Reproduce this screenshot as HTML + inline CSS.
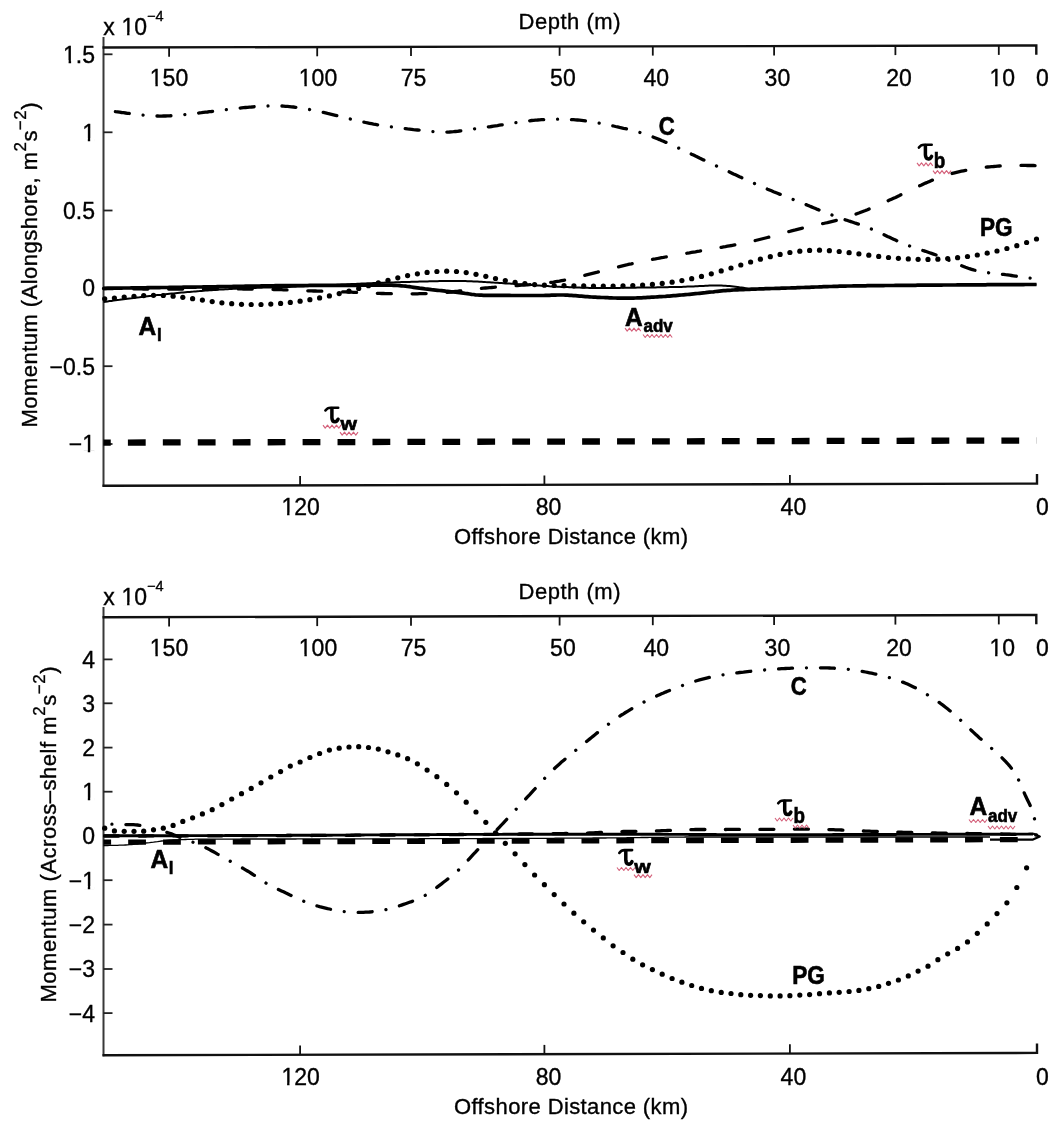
<!DOCTYPE html>
<html><head><meta charset="utf-8"><title>Momentum balance</title>
<style>html,body{margin:0;padding:0;background:#fff;}svg{display:block;will-change:transform;}text{font-family:"Liberation Sans",sans-serif;}</style>
</head><body>
<svg width="1063" height="1122" viewBox="0 0 1063 1122">
<rect width="1063" height="1122" fill="#fff"/>
<path d="M103.5 37 V486.8" stroke="#383838" stroke-width="2" fill="none"/><path d="M102.5 47.5 L1036.3 45.5 V54.8" stroke="#111" stroke-width="2.4" fill="none"/><path d="M102.5 485.8 L1037 483.6 V474.1" stroke="#111" stroke-width="2.4" fill="none"/><path d="M169.1 47.4 V56.7" stroke="#111" stroke-width="1.8"/><path d="M317.2 47 V56.3" stroke="#111" stroke-width="1.8"/><path d="M411 46.8 V56.1" stroke="#111" stroke-width="1.8"/><path d="M559.6 46.5 V55.8" stroke="#111" stroke-width="1.8"/><path d="M652.8 46.3 V55.6" stroke="#111" stroke-width="1.8"/><path d="M774.1 46.1 V55.4" stroke="#111" stroke-width="1.8"/><path d="M895.4 45.8 V55.1" stroke="#111" stroke-width="1.8"/><path d="M998.8 45.6 V54.9" stroke="#111" stroke-width="1.8"/><path d="M300.1 476 V485.3" stroke="#111" stroke-width="1.8"/><path d="M544.4 475.5 V484.8" stroke="#111" stroke-width="1.8"/><path d="M789.9 474.9 V484.2" stroke="#111" stroke-width="1.8"/><path d="M103.5 54.3 H112.5" stroke="#222" stroke-width="1.8"/><path d="M103.5 132.3 H112.5" stroke="#222" stroke-width="1.8"/><path d="M103.5 210.5 H112.5" stroke="#222" stroke-width="1.8"/><path d="M103.5 288 H112.5" stroke="#222" stroke-width="1.8"/><path d="M103.5 366.2 H112.5" stroke="#222" stroke-width="1.8"/><path d="M103.5 444 H112.5" stroke="#222" stroke-width="1.8"/><g  font-size="23" fill="#000" stroke="#000" stroke-width="0.35"><text x="169" y="86.3" text-anchor="middle">150</text><text x="318" y="86.3" text-anchor="middle">100</text><text x="413.5" y="86.3" text-anchor="middle">75</text><text x="562.9" y="86.3" text-anchor="middle">50</text><text x="656.3" y="86.3" text-anchor="middle">40</text><text x="777.4" y="86.3" text-anchor="middle">30</text><text x="899" y="86.3" text-anchor="middle">20</text><text x="1002.3" y="86.3" text-anchor="middle">10</text><text x="1042.4" y="86.3" text-anchor="middle">0</text><text x="300.7" y="515" text-anchor="middle">120</text><text x="548.5" y="515" text-anchor="middle">80</text><text x="793.4" y="515" text-anchor="middle">40</text><text x="1042.5" y="515" text-anchor="middle">0</text><text x="95" y="62.7" text-anchor="end">1.5</text><text x="95" y="140.7" text-anchor="end">1</text><text x="95" y="218.9" text-anchor="end">0.5</text><text x="95" y="296.4" text-anchor="end">0</text><text x="95" y="374.6" text-anchor="end">&#8722;0.5</text><text x="95" y="452.4" text-anchor="end">&#8722;1</text><text x="454" y="544.2" font-size="22" textLength="234" lengthAdjust="spacing">Offshore Distance (km)</text><text x="518.5" y="29" font-size="22" textLength="102" lengthAdjust="spacing">Depth (m)</text><text x="103.2" y="34.6">x</text><text x="121.5" y="34.6">10</text><text x="147" y="20.6" font-size="14.5">&#8722;4</text><text transform="translate(37.2 427.5) rotate(-90)" font-size="22" textLength="325" lengthAdjust="spacing">Momentum (Alongshore, m<tspan font-size="17" dy="-11">2</tspan><tspan dy="11">s</tspan><tspan font-size="17" dy="-11">&#8722;2</tspan><tspan dy="11">)</tspan></text></g>
<path d="M103.5 607 V1056.3" stroke="#383838" stroke-width="2" fill="none"/><path d="M102.5 617.3 L1036.3 615 V624.3" stroke="#111" stroke-width="2.4" fill="none"/><path d="M102.5 1055.3 L1037 1052.9 V1043.4" stroke="#111" stroke-width="2.4" fill="none"/><path d="M169.1 617.1 V626.4" stroke="#111" stroke-width="1.8"/><path d="M317.2 616.8 V626.1" stroke="#111" stroke-width="1.8"/><path d="M411 616.5 V625.8" stroke="#111" stroke-width="1.8"/><path d="M559.6 616.2 V625.5" stroke="#111" stroke-width="1.8"/><path d="M652.8 615.9 V625.2" stroke="#111" stroke-width="1.8"/><path d="M774.1 615.6 V624.9" stroke="#111" stroke-width="1.8"/><path d="M895.4 615.3 V624.6" stroke="#111" stroke-width="1.8"/><path d="M998.8 615.1 V624.4" stroke="#111" stroke-width="1.8"/><path d="M300.1 1045.5 V1054.8" stroke="#111" stroke-width="1.8"/><path d="M544.4 1044.9 V1054.2" stroke="#111" stroke-width="1.8"/><path d="M789.9 1044.2 V1053.5" stroke="#111" stroke-width="1.8"/><path d="M103.5 659.4 H112.5" stroke="#222" stroke-width="1.8"/><path d="M103.5 703.3 H112.5" stroke="#222" stroke-width="1.8"/><path d="M103.5 747.6 H112.5" stroke="#222" stroke-width="1.8"/><path d="M103.5 791.7 H112.5" stroke="#222" stroke-width="1.8"/><path d="M103.5 835.8 H112.5" stroke="#222" stroke-width="1.8"/><path d="M103.5 880.2 H112.5" stroke="#222" stroke-width="1.8"/><path d="M103.5 924.6 H112.5" stroke="#222" stroke-width="1.8"/><path d="M103.5 969 H112.5" stroke="#222" stroke-width="1.8"/><path d="M103.5 1013.1 H112.5" stroke="#222" stroke-width="1.8"/><g  font-size="23" fill="#000" stroke="#000" stroke-width="0.35"><text x="169" y="656.3" text-anchor="middle">150</text><text x="318" y="656.3" text-anchor="middle">100</text><text x="413.5" y="656.3" text-anchor="middle">75</text><text x="562.9" y="656.3" text-anchor="middle">50</text><text x="656.3" y="656.3" text-anchor="middle">40</text><text x="777.4" y="656.3" text-anchor="middle">30</text><text x="899" y="656.3" text-anchor="middle">20</text><text x="1002.3" y="656.3" text-anchor="middle">10</text><text x="1042.4" y="656.3" text-anchor="middle">0</text><text x="300.7" y="1085" text-anchor="middle">120</text><text x="548.5" y="1085" text-anchor="middle">80</text><text x="793.4" y="1085" text-anchor="middle">40</text><text x="1042.5" y="1085" text-anchor="middle">0</text><text x="95" y="667.8" text-anchor="end">4</text><text x="95" y="711.7" text-anchor="end">3</text><text x="95" y="756" text-anchor="end">2</text><text x="95" y="800.1" text-anchor="end">1</text><text x="95" y="844.2" text-anchor="end">0</text><text x="95" y="888.6" text-anchor="end">&#8722;1</text><text x="95" y="933" text-anchor="end">&#8722;2</text><text x="95" y="977.4" text-anchor="end">&#8722;3</text><text x="95" y="1021.5" text-anchor="end">&#8722;4</text><text x="454" y="1114.2" font-size="22" textLength="234" lengthAdjust="spacing">Offshore Distance (km)</text><text x="518.5" y="599" font-size="22" textLength="102" lengthAdjust="spacing">Depth (m)</text><text x="103.2" y="604.6">x</text><text x="121.5" y="604.6">10</text><text x="147" y="590.6" font-size="14.5">&#8722;4</text><text transform="translate(55.6 1002.5) rotate(-90)" font-size="22" textLength="336" lengthAdjust="spacing">Momentum (Across&#8211;shelf m<tspan font-size="17" dy="-11">2</tspan><tspan dy="11">s</tspan><tspan font-size="17" dy="-11">&#8722;2</tspan><tspan dy="11">)</tspan></text></g>
<g fill="#fff"><rect x="150.5" y="84" width="4.9" height="3.6"/><rect x="157.8" y="84" width="4.6" height="3.6"/><rect x="299.5" y="84" width="4.9" height="3.6"/><rect x="306.8" y="84" width="4.6" height="3.6"/><rect x="990.2" y="84" width="4.9" height="3.6"/><rect x="997.5" y="84" width="4.6" height="3.6"/><rect x="282.2" y="512.7" width="4.9" height="3.6"/><rect x="289.5" y="512.7" width="4.6" height="3.6"/><rect x="63.7" y="60.4" width="4.9" height="3.6"/><rect x="71.1" y="60.4" width="4.6" height="3.6"/><rect x="82.9" y="138.4" width="4.9" height="3.6"/><rect x="90.2" y="138.4" width="4.6" height="3.6"/><rect x="82.9" y="450.1" width="4.9" height="3.6"/><rect x="90.2" y="450.1" width="4.6" height="3.6"/><rect x="122.2" y="32.3" width="4.9" height="3.6"/><rect x="129.5" y="32.3" width="4.6" height="3.6"/><rect x="150.5" y="654" width="4.9" height="3.6"/><rect x="157.8" y="654" width="4.6" height="3.6"/><rect x="299.5" y="654" width="4.9" height="3.6"/><rect x="306.8" y="654" width="4.6" height="3.6"/><rect x="990.2" y="654" width="4.9" height="3.6"/><rect x="997.5" y="654" width="4.6" height="3.6"/><rect x="282.2" y="1082.7" width="4.9" height="3.6"/><rect x="289.5" y="1082.7" width="4.6" height="3.6"/><rect x="82.9" y="797.8" width="4.9" height="3.6"/><rect x="90.2" y="797.8" width="4.6" height="3.6"/><rect x="82.9" y="886.3" width="4.9" height="3.6"/><rect x="90.2" y="886.3" width="4.6" height="3.6"/><rect x="122.2" y="602.3" width="4.9" height="3.6"/><rect x="129.5" y="602.3" width="4.6" height="3.6"/></g>
<path d="M103.5 302 L105.5 301.7 L107.5 301.4 L109.5 301.1 L111.5 300.9 L113.5 300.6 L115.5 300.3 L117.5 300 L119.5 299.8 L121.5 299.5 L123.5 299.2 L125.5 299 L127.5 298.7 L129.5 298.4 L131.5 298.2 L133.5 297.9 L135.5 297.7 L137.5 297.4 L139.5 297.2 L141.5 296.9 L143.5 296.7 L145.5 296.5 L147.5 296.2 L149.5 296 L151.5 295.8 L153.5 295.5 L155.5 295.3 L157.5 295.1 L159.5 294.9 L161.5 294.7 L163.5 294.4 L165.5 294.2 L167.5 294 L169.5 293.8 L171.5 293.6 L173.5 293.4 L175.5 293.2 L177.5 293 L179.5 292.8 L181.5 292.6 L183.5 292.5 L185.5 292.3 L187.5 292.1 L189.5 291.9 L191.5 291.7 L193.5 291.6 L195.5 291.4 L197.5 291.2 L199.5 291.1 L201.5 290.9 L203.5 290.8 L205.5 290.6 L207.5 290.5 L209.5 290.3 L211.5 290.2 L213.5 290 L215.5 289.9 L217.5 289.8 L219.5 289.6 L221.5 289.5 L223.5 289.4 L225.5 289.3 L227.5 289.2 L229.5 289 L231.5 288.9 L233.5 288.8 L235.5 288.7 L237.5 288.6 L239.5 288.5 L241.5 288.4 L243.5 288.3 L245.5 288.3 L247.5 288.2 L249.5 288.1 L251.5 288 L253.5 288 L255.5 287.9 L257.5 287.8 L259.5 287.7 L261.5 287.7 L263.5 287.6 L265.5 287.6 L267.5 287.5 L269.5 287.4 L271.5 287.4 L273.5 287.3 L275.5 287.3 L277.5 287.2 L279.5 287.2 L281.5 287.1 L283.5 287 L285.5 287 L287.5 286.9 L289.5 286.9 L291.5 286.8 L293.5 286.7 L295.5 286.7 L297.5 286.6 L299.5 286.5 L301.5 286.4 L303.5 286.4 L305.5 286.3 L307.5 286.2 L309.5 286.1 L311.5 286 L313.5 285.9 L315.5 285.8 L317.5 285.8 L319.5 285.7 L321.5 285.6 L323.5 285.5 L325.5 285.4 L327.5 285.3 L329.5 285.2 L331.5 285.1 L333.5 285 L335.5 284.9 L337.5 284.8 L339.5 284.7 L341.5 284.6 L343.5 284.5 L345.5 284.4 L347.5 284.3 L349.5 284.2 L351.5 284.1 L353.5 284 L355.5 283.9 L357.5 283.8 L359.5 283.7 L361.5 283.6 L363.5 283.5 L365.5 283.4 L367.5 283.3 L369.5 283.3 L371.5 283.2 L373.5 283.1 L375.5 283 L377.5 282.9 L379.5 282.9 L381.5 282.8 L383.5 282.7 L385.5 282.6 L387.5 282.6 L389.5 282.5 L391.5 282.5 L393.5 282.4 L395.5 282.3 L397.5 282.3 L399.5 282.2 L401.5 282.1 L403.5 282.1 L405.5 282 L407.5 282 L409.5 281.9 L411.5 281.8 L413.5 281.8 L415.5 281.7 L417.5 281.7 L419.5 281.6 L421.5 281.5 L423.5 281.5 L425.5 281.4 L427.5 281.4 L429.5 281.3 L431.5 281.3 L433.5 281.3 L435.5 281.2 L437.5 281.2 L439.5 281.1 L441.5 281.1 L443.5 281.1 L445.5 281.1 L447.5 281 L449.5 281 L451.5 281 L453.5 281 L455.5 281 L457.5 281 L459.5 281 L461.5 281 L463.5 281.1 L465.5 281.1 L467.5 281.2 L469.5 281.3 L471.5 281.3 L473.5 281.4 L475.5 281.5 L477.5 281.6 L479.5 281.7 L481.5 281.8 L483.5 281.9 L485.5 282.1 L487.5 282.2 L489.5 282.3 L491.5 282.4 L493.5 282.6 L495.5 282.7 L497.5 282.8 L499.5 283 L501.5 283.1 L503.5 283.2 L505.5 283.4 L507.5 283.5 L509.5 283.6 L511.5 283.7 L513.5 283.8 L515.5 283.9 L517.5 284.1 L519.5 284.2 L521.5 284.3 L523.5 284.5 L525.5 284.6 L527.5 284.7 L529.5 284.9 L531.5 285 L533.5 285.2 L535.5 285.3 L537.5 285.5 L539.5 285.6 L541.5 285.7 L543.5 285.9 L545.5 286 L547.5 286.1 L549.5 286.3 L551.5 286.4 L553.5 286.5 L555.5 286.6 L557.5 286.7 L559.5 286.8 L561.5 286.9 L563.5 286.9 L565.5 287 L567.5 287.1 L569.5 287.2 L571.5 287.3 L573.5 287.4 L575.5 287.4 L577.5 287.5 L579.5 287.6 L581.5 287.7 L583.5 287.7 L585.5 287.8 L587.5 287.8 L589.5 287.9 L591.5 287.9 L593.5 288 L595.5 288 L597.5 288 L599.5 288 L601.5 288 L603.5 288 L605.5 288 L607.5 288 L609.5 288 L611.5 287.9 L613.5 287.9 L615.5 287.9 L617.5 287.9 L619.5 287.9 L621.5 287.8 L623.5 287.8 L625.5 287.8 L627.5 287.8 L629.5 287.7 L631.5 287.7 L633.5 287.7 L635.5 287.7 L637.5 287.6 L639.5 287.6 L641.5 287.6 L643.5 287.6 L645.5 287.5 L647.5 287.5 L649.5 287.5 L651.5 287.4 L653.5 287.4 L655.5 287.4 L657.5 287.3 L659.5 287.3 L661.5 287.3 L663.5 287.2 L665.5 287.2 L667.5 287.2 L669.5 287.1 L671.5 287.1 L673.5 287 L675.5 287 L677.5 287 L679.5 286.9 L681.5 286.9 L683.5 286.8 L685.5 286.7 L687.5 286.6 L689.5 286.6 L691.5 286.5 L693.5 286.4 L695.5 286.3 L697.5 286.2 L699.5 286.1 L701.5 286 L703.5 285.9 L705.5 285.8 L707.5 285.7 L709.5 285.6 L711.5 285.6 L713.5 285.5 L715.5 285.5 L717.5 285.5 L719.5 285.5 L721.5 285.6 L723.5 285.7 L725.5 285.8 L727.5 285.9 L729.5 286.1 L731.5 286.3 L733.5 286.5 L735.5 286.7 L737.5 286.9 L739.5 287.2 L741.5 287.4 L743.5 287.8 L745.5 288.2 L747.5 288.7 L749.5 289 L751.5 289.2 L753.5 289.2 L755.5 289.2 L757.5 289.1 L759.5 289.1 L761.5 289.1 L763.5 289 L765.5 288.9 L767.5 288.8 L769.5 288.8 L771.5 288.7 L773.5 288.6 L775.5 288.5 L777.5 288.4 L779.5 288.3 L781.5 288.3 L783.5 288.2 L785.5 288.1 L787.5 288 L789.5 288 L791.5 287.9 L793.5 287.8 L795.5 287.8 L797.5 287.7 L799.5 287.6 L801.5 287.5 L803.5 287.5 L805.5 287.4 L807.5 287.3 L809.5 287.3 L811.5 287.2 L813.5 287.1 L815.5 287 L817.5 287 L819.5 286.9 L821.5 286.8 L823.5 286.7 L825.5 286.7 L827.5 286.6 L829.5 286.5 L831.5 286.5 L833.5 286.4 L835.5 286.3 L837.5 286.3 L839.5 286.2 L841.5 286.2 L843.5 286.1 L845.5 286.1 L847.5 286 L849.5 286 L851.5 286 L853.5 285.9 L855.5 285.9 L857.5 285.9 L859.5 285.9 L861.5 285.8 L863.5 285.8 L865.5 285.8 L867.5 285.7 L869.5 285.7 L871.5 285.7 L873.5 285.7 L875.5 285.6 L877.5 285.6 L879.5 285.6 L881.5 285.6 L883.5 285.6 L885.5 285.5 L887.5 285.5 L889.5 285.5 L891.5 285.5 L893.5 285.5 L895.5 285.4 L897.5 285.4 L899.5 285.4 L901.5 285.4 L903.5 285.4 L905.5 285.3 L907.5 285.3 L909.5 285.3 L911.5 285.3 L913.5 285.3 L915.5 285.3 L917.5 285.2 L919.5 285.2 L921.5 285.2 L923.5 285.2 L925.5 285.2 L927.5 285.2 L929.5 285.1 L931.5 285.1 L933.5 285.1 L935.5 285.1 L937.5 285.1 L939.5 285.1 L941.5 285.1 L943.5 285 L945.5 285 L947.5 285 L949.5 285 L951.5 285 L953.5 285 L955.5 285 L957.5 284.9 L959.5 284.9 L961.5 284.9 L963.5 284.9 L965.5 284.9 L967.5 284.9 L969.5 284.9 L971.5 284.8 L973.5 284.8 L975.5 284.8 L977.5 284.8 L979.5 284.8 L981.5 284.8 L983.5 284.8 L985.5 284.8 L987.5 284.7 L989.5 284.7 L991.5 284.7 L993.5 284.7 L995.5 284.7 L997.5 284.7 L999.5 284.7 L1001.5 284.7 L1003.5 284.7 L1005.5 284.6 L1007.5 284.6 L1009.5 284.6 L1011.5 284.6 L1013.5 284.6 L1015.5 284.6 L1017.5 284.6 L1019.5 284.6 L1021.5 284.6 L1023.5 284.6 L1025.5 284.5 L1027.5 284.5 L1029.5 284.5 L1031.5 284.5 L1033.5 284.5 L1035.5 284.5 L1036.5 284.5" fill="none" stroke="#000" stroke-width="2"/><path d="M103.5 288.3 L105.5 288.3 L107.5 288.2 L109.5 288.2 L111.5 288.2 L113.5 288.2 L115.5 288.1 L117.5 288.1 L119.5 288.1 L121.5 288.1 L123.5 288 L125.5 288 L127.5 288 L129.5 288 L131.5 287.9 L133.5 287.9 L135.5 287.9 L137.5 287.9 L139.5 287.8 L141.5 287.8 L143.5 287.8 L145.5 287.8 L147.5 287.7 L149.5 287.7 L151.5 287.7 L153.5 287.6 L155.5 287.6 L157.5 287.6 L159.5 287.6 L161.5 287.5 L163.5 287.5 L165.5 287.5 L167.5 287.5 L169.5 287.4 L171.5 287.4 L173.5 287.4 L175.5 287.3 L177.5 287.3 L179.5 287.3 L181.5 287.3 L183.5 287.2 L185.5 287.2 L187.5 287.2 L189.5 287.1 L191.5 287.1 L193.5 287.1 L195.5 287.1 L197.5 287 L199.5 287 L201.5 287 L203.5 286.9 L205.5 286.9 L207.5 286.9 L209.5 286.9 L211.5 286.8 L213.5 286.8 L215.5 286.8 L217.5 286.7 L219.5 286.7 L221.5 286.7 L223.5 286.6 L225.5 286.6 L227.5 286.5 L229.5 286.5 L231.5 286.5 L233.5 286.4 L235.5 286.4 L237.5 286.4 L239.5 286.3 L241.5 286.3 L243.5 286.3 L245.5 286.2 L247.5 286.2 L249.5 286.1 L251.5 286.1 L253.5 286.1 L255.5 286 L257.5 286 L259.5 286 L261.5 285.9 L263.5 285.9 L265.5 285.9 L267.5 285.9 L269.5 285.8 L271.5 285.8 L273.5 285.8 L275.5 285.7 L277.5 285.7 L279.5 285.7 L281.5 285.7 L283.5 285.6 L285.5 285.6 L287.5 285.6 L289.5 285.6 L291.5 285.6 L293.5 285.5 L295.5 285.5 L297.5 285.5 L299.5 285.5 L301.5 285.5 L303.5 285.5 L305.5 285.5 L307.5 285.5 L309.5 285.4 L311.5 285.4 L313.5 285.4 L315.5 285.4 L317.5 285.4 L319.5 285.4 L321.5 285.4 L323.5 285.4 L325.5 285.4 L327.5 285.4 L329.5 285.4 L331.5 285.3 L333.5 285.3 L335.5 285.3 L337.5 285.3 L339.5 285.3 L341.5 285.3 L343.5 285.3 L345.5 285.3 L347.5 285.3 L349.5 285.3 L351.5 285.3 L353.5 285.3 L355.5 285.3 L357.5 285.2 L359.5 285.2 L361.5 285.2 L363.5 285.2 L365.5 285.2 L367.5 285.2 L369.5 285.2 L371.5 285.2 L373.5 285.2 L375.5 285.2 L377.5 285.2 L379.5 285.2 L381.5 285.2 L383.5 285.2 L385.5 285.2 L387.5 285.2 L389.5 285.2 L391.5 285.2 L393.5 285.3 L395.5 285.4 L397.5 285.5 L399.5 285.6 L401.5 285.8 L403.5 286 L405.5 286.2 L407.5 286.5 L409.5 286.7 L411.5 287 L413.5 287.3 L415.5 287.6 L417.5 287.9 L419.5 288.2 L421.5 288.4 L423.5 288.7 L425.5 289 L427.5 289.2 L429.5 289.4 L431.5 289.7 L433.5 289.9 L435.5 290.1 L437.5 290.3 L439.5 290.5 L441.5 290.7 L443.5 290.9 L445.5 291.2 L447.5 291.4 L449.5 291.6 L451.5 291.8 L453.5 292 L455.5 292.2 L457.5 292.4 L459.5 292.7 L461.5 292.9 L463.5 293.2 L465.5 293.5 L467.5 293.7 L469.5 294 L471.5 294.3 L473.5 294.5 L475.5 294.8 L477.5 295 L479.5 295.1 L481.5 295.2 L483.5 295.3 L485.5 295.3 L487.5 295.3 L489.5 295.3 L491.5 295.4 L493.5 295.4 L495.5 295.4 L497.5 295.4 L499.5 295.4 L501.5 295.4 L503.5 295.4 L505.5 295.4 L507.5 295.4 L509.5 295.4 L511.5 295.5 L513.5 295.5 L515.5 295.5 L517.5 295.5 L519.5 295.5 L521.5 295.5 L523.5 295.5 L525.5 295.5 L527.5 295.5 L529.5 295.5 L531.5 295.5 L533.5 295.5 L535.5 295.5 L537.5 295.5 L539.5 295.5 L541.5 295.5 L543.5 295.5 L545.5 295.4 L547.5 295.3 L549.5 295.3 L551.5 295.2 L553.5 295.1 L555.5 295.1 L557.5 295 L559.5 295 L561.5 295 L563.5 295 L565.5 295.1 L567.5 295.2 L569.5 295.3 L571.5 295.4 L573.5 295.6 L575.5 295.7 L577.5 295.9 L579.5 296.1 L581.5 296.2 L583.5 296.4 L585.5 296.6 L587.5 296.7 L589.5 296.8 L591.5 297 L593.5 297.1 L595.5 297.2 L597.5 297.3 L599.5 297.4 L601.5 297.5 L603.5 297.5 L605.5 297.6 L607.5 297.7 L609.5 297.8 L611.5 297.9 L613.5 298 L615.5 298 L617.5 298.1 L619.5 298.1 L621.5 298.2 L623.5 298.2 L625.5 298.2 L627.5 298.2 L629.5 298.2 L631.5 298.1 L633.5 298.1 L635.5 298 L637.5 297.9 L639.5 297.9 L641.5 297.8 L643.5 297.7 L645.5 297.6 L647.5 297.4 L649.5 297.3 L651.5 297.2 L653.5 297.1 L655.5 297 L657.5 296.8 L659.5 296.7 L661.5 296.6 L663.5 296.5 L665.5 296.4 L667.5 296.2 L669.5 296.1 L671.5 295.9 L673.5 295.7 L675.5 295.6 L677.5 295.4 L679.5 295.2 L681.5 295 L683.5 294.8 L685.5 294.6 L687.5 294.5 L689.5 294.3 L691.5 294.1 L693.5 293.9 L695.5 293.7 L697.5 293.5 L699.5 293.3 L701.5 293.1 L703.5 292.9 L705.5 292.7 L707.5 292.4 L709.5 292.2 L711.5 292 L713.5 291.8 L715.5 291.5 L717.5 291.3 L719.5 291.1 L721.5 290.9 L723.5 290.7 L725.5 290.6 L727.5 290.4 L729.5 290.3 L731.5 290.2 L733.5 290 L735.5 289.9 L737.5 289.8 L739.5 289.7 L741.5 289.6 L743.5 289.6 L745.5 289.5 L747.5 289.4 L749.5 289.3 L751.5 289.2 L753.5 289.1 L755.5 289.1 L757.5 289 L759.5 288.9 L761.5 288.9 L763.5 288.8 L765.5 288.7 L767.5 288.7 L769.5 288.6 L771.5 288.5 L773.5 288.5 L775.5 288.4 L777.5 288.4 L779.5 288.3 L781.5 288.2 L783.5 288.2 L785.5 288.1 L787.5 288 L789.5 288 L791.5 287.9 L793.5 287.8 L795.5 287.8 L797.5 287.7 L799.5 287.6 L801.5 287.5 L803.5 287.5 L805.5 287.4 L807.5 287.3 L809.5 287.3 L811.5 287.2 L813.5 287.1 L815.5 287 L817.5 287 L819.5 286.9 L821.5 286.8 L823.5 286.7 L825.5 286.7 L827.5 286.6 L829.5 286.5 L831.5 286.5 L833.5 286.4 L835.5 286.3 L837.5 286.3 L839.5 286.2 L841.5 286.2 L843.5 286.1 L845.5 286.1 L847.5 286 L849.5 286 L851.5 286 L853.5 285.9 L855.5 285.9 L857.5 285.9 L859.5 285.9 L861.5 285.8 L863.5 285.8 L865.5 285.8 L867.5 285.7 L869.5 285.7 L871.5 285.7 L873.5 285.7 L875.5 285.6 L877.5 285.6 L879.5 285.6 L881.5 285.6 L883.5 285.6 L885.5 285.5 L887.5 285.5 L889.5 285.5 L891.5 285.5 L893.5 285.5 L895.5 285.4 L897.5 285.4 L899.5 285.4 L901.5 285.4 L903.5 285.4 L905.5 285.3 L907.5 285.3 L909.5 285.3 L911.5 285.3 L913.5 285.3 L915.5 285.3 L917.5 285.2 L919.5 285.2 L921.5 285.2 L923.5 285.2 L925.5 285.2 L927.5 285.2 L929.5 285.1 L931.5 285.1 L933.5 285.1 L935.5 285.1 L937.5 285.1 L939.5 285.1 L941.5 285.1 L943.5 285 L945.5 285 L947.5 285 L949.5 285 L951.5 285 L953.5 285 L955.5 285 L957.5 284.9 L959.5 284.9 L961.5 284.9 L963.5 284.9 L965.5 284.9 L967.5 284.9 L969.5 284.9 L971.5 284.8 L973.5 284.8 L975.5 284.8 L977.5 284.8 L979.5 284.8 L981.5 284.8 L983.5 284.8 L985.5 284.8 L987.5 284.7 L989.5 284.7 L991.5 284.7 L993.5 284.7 L995.5 284.7 L997.5 284.7 L999.5 284.7 L1001.5 284.7 L1003.5 284.7 L1005.5 284.6 L1007.5 284.6 L1009.5 284.6 L1011.5 284.6 L1013.5 284.6 L1015.5 284.6 L1017.5 284.6 L1019.5 284.6 L1021.5 284.6 L1023.5 284.6 L1025.5 284.5 L1027.5 284.5 L1029.5 284.5 L1031.5 284.5 L1033.5 284.5 L1035.5 284.5 L1036.5 284.5" fill="none" stroke="#000" stroke-width="3.7"/><path d="M103.5 288.5 L105.5 288.5 L107.5 288.6 L109.5 288.6 L111.5 288.6 L113.5 288.6 L115.5 288.7 L117.5 288.7 L119.5 288.7 L121.5 288.7 L123.5 288.8 L125.5 288.8 L127.5 288.8 L129.5 288.8 L131.5 288.8 L133.5 288.9 L135.5 288.9 L137.5 288.9 L139.5 288.9 L141.5 288.9 L143.5 289 L145.5 289 L147.5 289 L149.5 289 L151.5 289 L153.5 289 L155.5 289 L157.5 289 L159.5 289 L161.5 289 L163.5 289.1 L165.5 289.1 L167.5 289.1 L169.5 289.1 L171.5 289.1 L173.5 289.1 L175.5 289.1 L177.5 289.1 L179.5 289.1 L181.5 289.1 L183.5 289.1 L185.5 289.1 L187.5 289 L189.5 289 L191.5 289 L193.5 289 L195.5 289 L197.5 289 L199.5 289 L201.5 289 L203.5 289 L205.5 289 L207.5 289 L209.5 289 L211.5 289 L213.5 289 L215.5 288.9 L217.5 288.9 L219.5 288.9 L221.5 288.9 L223.5 288.9 L225.5 288.9 L227.5 288.9 L229.5 288.9 L231.5 288.9 L233.5 288.9 L235.5 288.9 L237.5 288.9 L239.5 288.9 L241.5 288.9 L243.5 289 L245.5 289 L247.5 289 L249.5 289 L251.5 289 L253.5 289 L255.5 289.1 L257.5 289.1 L259.5 289.1 L261.5 289.2 L263.5 289.2 L265.5 289.3 L267.5 289.3 L269.5 289.3 L271.5 289.4 L273.5 289.5 L275.5 289.5 L277.5 289.6 L279.5 289.6 L281.5 289.7 L283.5 289.8 L285.5 289.9 L287.5 289.9 L289.5 290 L291.5 290.1 L293.5 290.2 L295.5 290.3 L297.5 290.4 L299.5 290.4 L301.5 290.5 L303.5 290.6 L305.5 290.7 L307.5 290.8 L309.5 290.8 L311.5 290.9 L313.5 291 L315.5 291 L317.5 291.1 L319.5 291.2 L321.5 291.2 L323.5 291.3 L325.5 291.3 L327.5 291.4 L329.5 291.5 L331.5 291.5 L333.5 291.6 L335.5 291.6 L337.5 291.7 L339.5 291.7 L341.5 291.8 L343.5 291.9 L345.5 291.9 L347.5 292 L349.5 292.1 L351.5 292.2 L353.5 292.3 L355.5 292.3 L357.5 292.4 L359.5 292.5 L361.5 292.6 L363.5 292.7 L365.5 292.8 L367.5 292.9 L369.5 293 L371.5 293.1 L373.5 293.1 L375.5 293.2 L377.5 293.3 L379.5 293.4 L381.5 293.5 L383.5 293.5 L385.5 293.6 L387.5 293.6 L389.5 293.7 L391.5 293.7 L393.5 293.8 L395.5 293.8 L397.5 293.8 L399.5 293.8 L401.5 293.8 L403.5 293.9 L405.5 293.9 L407.5 293.9 L409.5 293.9 L411.5 293.8 L413.5 293.8 L415.5 293.8 L417.5 293.8 L419.5 293.7 L421.5 293.7 L423.5 293.7 L425.5 293.6 L427.5 293.6 L429.5 293.5 L431.5 293.4 L433.5 293.3 L435.5 293.2 L437.5 293.1 L439.5 293 L441.5 292.8 L443.5 292.7 L445.5 292.5 L447.5 292.3 L449.5 292.1 L451.5 291.9 L453.5 291.7 L455.5 291.5 L457.5 291.3 L459.5 291 L461.5 290.8 L463.5 290.6 L465.5 290.3 L467.5 290.1 L469.5 289.8 L471.5 289.6 L473.5 289.4 L475.5 289.1 L477.5 288.9 L479.5 288.7 L481.5 288.4 L483.5 288.2 L485.5 288 L487.5 287.8 L489.5 287.6 L491.5 287.5 L493.5 287.3 L495.5 287.1 L497.5 286.9 L499.5 286.8 L501.5 286.6 L503.5 286.5 L505.5 286.3 L507.5 286.2 L509.5 286 L511.5 285.9 L513.5 285.8 L515.5 285.6 L517.5 285.5 L519.5 285.4 L521.5 285.2 L523.5 285.1 L525.5 284.9 L527.5 284.8 L529.5 284.7 L531.5 284.5 L533.5 284.3 L535.5 284.2 L537.5 284 L539.5 283.8 L541.5 283.6 L543.5 283.4 L545.5 283.1 L547.5 282.9 L549.5 282.6 L551.5 282.3 L553.5 282.1 L555.5 281.7 L557.5 281.4 L559.5 281.1 L561.5 280.7 L563.5 280.3 L565.5 279.9 L567.5 279.5 L569.5 279.1 L571.5 278.6 L573.5 278.2 L575.5 277.7 L577.5 277.2 L579.5 276.7 L581.5 276.2 L583.5 275.7 L585.5 275.2 L587.5 274.7 L589.5 274.2 L591.5 273.7 L593.5 273.2 L595.5 272.7 L597.5 272.2 L599.5 271.6 L601.5 271.1 L603.5 270.6 L605.5 270.1 L607.5 269.6 L609.5 269.1 L611.5 268.6 L613.5 268.1 L615.5 267.6 L617.5 267.1 L619.5 266.6 L621.5 266.1 L623.5 265.6 L625.5 265.1 L627.5 264.7 L629.5 264.2 L631.5 263.8 L633.5 263.3 L635.5 262.9 L637.5 262.5 L639.5 262.1 L641.5 261.6 L643.5 261.2 L645.5 260.8 L647.5 260.4 L649.5 260 L651.5 259.6 L653.5 259.2 L655.5 258.9 L657.5 258.5 L659.5 258.1 L661.5 257.7 L663.5 257.4 L665.5 257 L667.5 256.6 L669.5 256.3 L671.5 255.9 L673.5 255.5 L675.5 255.2 L677.5 254.8 L679.5 254.5 L681.5 254.2 L683.5 253.8 L685.5 253.5 L687.5 253.1 L689.5 252.8 L691.5 252.4 L693.5 252.1 L695.5 251.8 L697.5 251.4 L699.5 251.1 L701.5 250.7 L703.5 250.4 L705.5 250.1 L707.5 249.7 L709.5 249.4 L711.5 249 L713.5 248.7 L715.5 248.4 L717.5 248 L719.5 247.7 L721.5 247.3 L723.5 246.9 L725.5 246.6 L727.5 246.2 L729.5 245.8 L731.5 245.5 L733.5 245.1 L735.5 244.7 L737.5 244.3 L739.5 243.9 L741.5 243.5 L743.5 243.1 L745.5 242.7 L747.5 242.2 L749.5 241.8 L751.5 241.4 L753.5 240.9 L755.5 240.5 L757.5 240 L759.5 239.5 L761.5 239 L763.5 238.5 L765.5 238 L767.5 237.5 L769.5 237 L771.5 236.5 L773.5 235.9 L775.5 235.4 L777.5 234.8 L779.5 234.3 L781.5 233.7 L783.5 233.1 L785.5 232.6 L787.5 232 L789.5 231.5 L791.5 230.9 L793.5 230.4 L795.5 229.9 L797.5 229.3 L799.5 228.8 L801.5 228.3 L803.5 227.9 L805.5 227.4 L807.5 226.9 L809.5 226.5 L811.5 226.1 L813.5 225.6 L815.5 225.2 L817.5 224.8 L819.5 224.3 L821.5 223.9 L823.5 223.5 L825.5 223 L827.5 222.6 L829.5 222.1 L831.5 221.6 L833.5 221.1 L835.5 220.6 L837.5 220.1 L839.5 219.5 L841.5 218.9 L843.5 218.3 L845.5 217.7 L847.5 217 L849.5 216.4 L851.5 215.7 L853.5 215 L855.5 214.3 L857.5 213.5 L859.5 212.8 L861.5 212 L863.5 211.2 L865.5 210.5 L867.5 209.7 L869.5 208.8 L871.5 208 L873.5 207.2 L875.5 206.3 L877.5 205.5 L879.5 204.6 L881.5 203.7 L883.5 202.8 L885.5 201.9 L887.5 201 L889.5 200.1 L891.5 199.2 L893.5 198.3 L895.5 197.4 L897.5 196.4 L899.5 195.5 L901.5 194.5 L903.5 193.6 L905.5 192.6 L907.5 191.6 L909.5 190.7 L911.5 189.7 L913.5 188.8 L915.5 187.8 L917.5 186.8 L919.5 185.9 L921.5 185 L923.5 184 L925.5 183.1 L927.5 182.3 L929.5 181.4 L931.5 180.5 L933.5 179.7 L935.5 178.9 L937.5 178.2 L939.5 177.4 L941.5 176.7 L943.5 176 L945.5 175.4 L947.5 174.8 L949.5 174.2 L951.5 173.6 L953.5 173.1 L955.5 172.6 L957.5 172.1 L959.5 171.6 L961.5 171.2 L963.5 170.8 L965.5 170.4 L967.5 170 L969.5 169.6 L971.5 169.3 L973.5 169 L975.5 168.6 L977.5 168.3 L979.5 168 L981.5 167.8 L983.5 167.5 L985.5 167.3 L987.5 167 L989.5 166.8 L991.5 166.6 L993.5 166.5 L995.5 166.3 L997.5 166.1 L999.5 166 L1001.5 165.9 L1003.5 165.8 L1005.5 165.7 L1007.5 165.6 L1009.5 165.5 L1011.5 165.5 L1013.5 165.4 L1015.5 165.4 L1017.5 165.4 L1019.5 165.4 L1021.5 165.4 L1023.5 165.4 L1025.5 165.4 L1027.5 165.5 L1029.5 165.5 L1031.5 165.5 L1033.5 165.5 L1035.5 165.6 L1036.5 165.6" fill="none" stroke="#000" stroke-width="3.3" stroke-linecap="round" stroke-dasharray="14 20.8" stroke-dashoffset="4.43"/><path d="M103.5 110.3 L105.5 110.5 L107.5 110.7 L109.5 111 L111.5 111.2 L113.5 111.4 L115.5 111.7 L117.5 111.9 L119.5 112.2 L121.5 112.5 L123.5 112.7 L125.5 113 L127.5 113.3 L129.5 113.5 L131.5 113.8 L133.5 114.1 L135.5 114.3 L137.5 114.5 L139.5 114.8 L141.5 115 L143.5 115.2 L145.5 115.4 L147.5 115.5 L149.5 115.7 L151.5 115.8 L153.5 115.9 L155.5 116 L157.5 116 L159.5 116.1 L161.5 116.1 L163.5 116 L165.5 116 L167.5 115.9 L169.5 115.8 L171.5 115.7 L173.5 115.6 L175.5 115.5 L177.5 115.3 L179.5 115.1 L181.5 115 L183.5 114.8 L185.5 114.6 L187.5 114.3 L189.5 114.1 L191.5 113.9 L193.5 113.7 L195.5 113.4 L197.5 113.2 L199.5 112.9 L201.5 112.7 L203.5 112.4 L205.5 112.2 L207.5 112 L209.5 111.7 L211.5 111.5 L213.5 111.2 L215.5 111 L217.5 110.7 L219.5 110.5 L221.5 110.2 L223.5 110 L225.5 109.8 L227.5 109.5 L229.5 109.3 L231.5 109.1 L233.5 108.8 L235.5 108.6 L237.5 108.4 L239.5 108.2 L241.5 107.9 L243.5 107.7 L245.5 107.5 L247.5 107.3 L249.5 107.1 L251.5 107 L253.5 106.8 L255.5 106.6 L257.5 106.5 L259.5 106.3 L261.5 106.2 L263.5 106.1 L265.5 106 L267.5 106 L269.5 105.9 L271.5 105.9 L273.5 105.8 L275.5 105.9 L277.5 105.9 L279.5 105.9 L281.5 106 L283.5 106.1 L285.5 106.3 L287.5 106.4 L289.5 106.6 L291.5 106.8 L293.5 107 L295.5 107.3 L297.5 107.5 L299.5 107.8 L301.5 108.1 L303.5 108.4 L305.5 108.8 L307.5 109.1 L309.5 109.5 L311.5 109.9 L313.5 110.3 L315.5 110.7 L317.5 111.1 L319.5 111.5 L321.5 112 L323.5 112.4 L325.5 112.9 L327.5 113.4 L329.5 113.8 L331.5 114.3 L333.5 114.8 L335.5 115.3 L337.5 115.8 L339.5 116.3 L341.5 116.8 L343.5 117.3 L345.5 117.8 L347.5 118.3 L349.5 118.8 L351.5 119.3 L353.5 119.8 L355.5 120.2 L357.5 120.7 L359.5 121.2 L361.5 121.6 L363.5 122.1 L365.5 122.5 L367.5 122.9 L369.5 123.3 L371.5 123.7 L373.5 124.1 L375.5 124.4 L377.5 124.8 L379.5 125.1 L381.5 125.4 L383.5 125.7 L385.5 126 L387.5 126.3 L389.5 126.6 L391.5 126.9 L393.5 127.2 L395.5 127.4 L397.5 127.7 L399.5 127.9 L401.5 128.2 L403.5 128.4 L405.5 128.6 L407.5 128.9 L409.5 129.1 L411.5 129.3 L413.5 129.6 L415.5 129.8 L417.5 130 L419.5 130.2 L421.5 130.5 L423.5 130.7 L425.5 130.9 L427.5 131.1 L429.5 131.3 L431.5 131.5 L433.5 131.7 L435.5 131.8 L437.5 131.9 L439.5 132 L441.5 132.1 L443.5 132.1 L445.5 132.1 L447.5 132.1 L449.5 132 L451.5 131.8 L453.5 131.7 L455.5 131.5 L457.5 131.3 L459.5 131 L461.5 130.8 L463.5 130.5 L465.5 130.2 L467.5 129.9 L469.5 129.6 L471.5 129.3 L473.5 129 L475.5 128.7 L477.5 128.5 L479.5 128.2 L481.5 127.9 L483.5 127.6 L485.5 127.3 L487.5 127 L489.5 126.8 L491.5 126.5 L493.5 126.2 L495.5 125.9 L497.5 125.6 L499.5 125.2 L501.5 124.9 L503.5 124.6 L505.5 124.3 L507.5 124 L509.5 123.6 L511.5 123.3 L513.5 123 L515.5 122.7 L517.5 122.4 L519.5 122.1 L521.5 121.8 L523.5 121.5 L525.5 121.3 L527.5 121 L529.5 120.8 L531.5 120.5 L533.5 120.3 L535.5 120.1 L537.5 120 L539.5 119.8 L541.5 119.7 L543.5 119.6 L545.5 119.5 L547.5 119.4 L549.5 119.3 L551.5 119.3 L553.5 119.2 L555.5 119.2 L557.5 119.2 L559.5 119.2 L561.5 119.2 L563.5 119.3 L565.5 119.3 L567.5 119.4 L569.5 119.5 L571.5 119.6 L573.5 119.7 L575.5 119.8 L577.5 120 L579.5 120.2 L581.5 120.4 L583.5 120.6 L585.5 120.9 L587.5 121.2 L589.5 121.5 L591.5 121.8 L593.5 122.1 L595.5 122.4 L597.5 122.8 L599.5 123.2 L601.5 123.5 L603.5 123.9 L605.5 124.3 L607.5 124.8 L609.5 125.2 L611.5 125.6 L613.5 126 L615.5 126.5 L617.5 126.9 L619.5 127.4 L621.5 127.8 L623.5 128.3 L625.5 128.7 L627.5 129.2 L629.5 129.7 L631.5 130.1 L633.5 130.7 L635.5 131.2 L637.5 131.8 L639.5 132.3 L641.5 133 L643.5 133.6 L645.5 134.3 L647.5 135 L649.5 135.7 L651.5 136.4 L653.5 137.2 L655.5 138 L657.5 138.8 L659.5 139.6 L661.5 140.5 L663.5 141.3 L665.5 142.2 L667.5 143 L669.5 143.9 L671.5 144.8 L673.5 145.7 L675.5 146.6 L677.5 147.6 L679.5 148.5 L681.5 149.4 L683.5 150.4 L685.5 151.3 L687.5 152.3 L689.5 153.2 L691.5 154.2 L693.5 155.1 L695.5 156.1 L697.5 157 L699.5 158 L701.5 158.9 L703.5 159.9 L705.5 160.8 L707.5 161.8 L709.5 162.7 L711.5 163.6 L713.5 164.6 L715.5 165.5 L717.5 166.4 L719.5 167.4 L721.5 168.3 L723.5 169.2 L725.5 170.2 L727.5 171.1 L729.5 172 L731.5 172.9 L733.5 173.9 L735.5 174.8 L737.5 175.7 L739.5 176.7 L741.5 177.6 L743.5 178.5 L745.5 179.4 L747.5 180.3 L749.5 181.2 L751.5 182.1 L753.5 183 L755.5 183.9 L757.5 184.8 L759.5 185.7 L761.5 186.6 L763.5 187.5 L765.5 188.3 L767.5 189.2 L769.5 190 L771.5 190.8 L773.5 191.7 L775.5 192.5 L777.5 193.3 L779.5 194.1 L781.5 194.9 L783.5 195.7 L785.5 196.5 L787.5 197.2 L789.5 198 L791.5 198.8 L793.5 199.6 L795.5 200.4 L797.5 201.2 L799.5 202 L801.5 202.8 L803.5 203.6 L805.5 204.4 L807.5 205.2 L809.5 206.1 L811.5 206.9 L813.5 207.7 L815.5 208.5 L817.5 209.4 L819.5 210.2 L821.5 211 L823.5 211.8 L825.5 212.6 L827.5 213.4 L829.5 214.2 L831.5 214.9 L833.5 215.7 L835.5 216.4 L837.5 217.1 L839.5 217.8 L841.5 218.5 L843.5 219.2 L845.5 219.9 L847.5 220.5 L849.5 221.2 L851.5 221.8 L853.5 222.5 L855.5 223.2 L857.5 223.8 L859.5 224.5 L861.5 225.2 L863.5 226 L865.5 226.7 L867.5 227.5 L869.5 228.3 L871.5 229.1 L873.5 229.9 L875.5 230.8 L877.5 231.7 L879.5 232.6 L881.5 233.6 L883.5 234.5 L885.5 235.4 L887.5 236.4 L889.5 237.3 L891.5 238.3 L893.5 239.2 L895.5 240.1 L897.5 241 L899.5 241.9 L901.5 242.8 L903.5 243.6 L905.5 244.4 L907.5 245.2 L909.5 246 L911.5 246.7 L913.5 247.4 L915.5 248.1 L917.5 248.7 L919.5 249.4 L921.5 250 L923.5 250.7 L925.5 251.3 L927.5 252 L929.5 252.7 L931.5 253.4 L933.5 254.1 L935.5 254.8 L937.5 255.5 L939.5 256.3 L941.5 257.1 L943.5 257.9 L945.5 258.8 L947.5 259.7 L949.5 260.5 L951.5 261.4 L953.5 262.3 L955.5 263.2 L957.5 264 L959.5 264.9 L961.5 265.7 L963.5 266.5 L965.5 267.3 L967.5 268 L969.5 268.7 L971.5 269.3 L973.5 269.9 L975.5 270.4 L977.5 270.9 L979.5 271.3 L981.5 271.7 L983.5 272 L985.5 272.4 L987.5 272.6 L989.5 272.9 L991.5 273.1 L993.5 273.4 L995.5 273.6 L997.5 273.8 L999.5 274 L1001.5 274.2 L1003.5 274.4 L1005.5 274.7 L1007.5 274.9 L1009.5 275.2 L1011.5 275.5 L1013.5 275.8 L1015.5 276.1 L1017.5 276.4 L1019.5 276.7 L1021.5 277 L1023.5 277.3 L1025.5 277.5 L1027.5 277.8 L1029.5 278 L1031.5 278.2 L1033.5 278.3 L1035.5 278.4 L1036.5 278.5" fill="none" stroke="#000" stroke-width="3.3" stroke-linecap="round" stroke-dasharray="14 13.915 0.01 13.915" stroke-dashoffset="29.87"/><g fill="#000"><circle cx="1036.5" cy="239" r="2.6"/><circle cx="1026.6" cy="242.5" r="2.6"/><circle cx="1016.8" cy="245.7" r="2.6"/><circle cx="1006.9" cy="248.5" r="2.6"/><circle cx="997" cy="251" r="2.6"/><circle cx="987.2" cy="253.2" r="2.6"/><circle cx="977.3" cy="255" r="2.6"/><circle cx="967.5" cy="256.5" r="2.6"/><circle cx="957.6" cy="257.7" r="2.6"/><circle cx="947.7" cy="258.6" r="2.6"/><circle cx="937.9" cy="259.2" r="2.6"/><circle cx="928" cy="259.4" r="2.6"/><circle cx="918.1" cy="259.3" r="2.6"/><circle cx="908.3" cy="258.9" r="2.6"/><circle cx="898.4" cy="258.3" r="2.6"/><circle cx="888.5" cy="257.5" r="2.6"/><circle cx="878.7" cy="256.4" r="2.6"/><circle cx="868.8" cy="255.2" r="2.6"/><circle cx="858.9" cy="253.9" r="2.6"/><circle cx="849.1" cy="252.7" r="2.6"/><circle cx="839.2" cy="251.5" r="2.6"/><circle cx="829.4" cy="250.7" r="2.6"/><circle cx="819.5" cy="250.2" r="2.6"/><circle cx="809.6" cy="250.4" r="2.6"/><circle cx="799.8" cy="251.2" r="2.6"/><circle cx="789.9" cy="252.5" r="2.6"/><circle cx="780.1" cy="254.4" r="2.6"/><circle cx="770.3" cy="256.7" r="2.6"/><circle cx="760.4" cy="259.2" r="2.6"/><circle cx="750.6" cy="262" r="2.6"/><circle cx="740.8" cy="265" r="2.6"/><circle cx="731" cy="268" r="2.6"/><circle cx="721.2" cy="270.9" r="2.6"/><circle cx="711.3" cy="273.8" r="2.6"/><circle cx="701.5" cy="276.4" r="2.6"/><circle cx="691.7" cy="278.7" r="2.6"/><circle cx="681.9" cy="280.6" r="2.6"/><circle cx="672.1" cy="282.2" r="2.6"/><circle cx="662.2" cy="283.4" r="2.6"/><circle cx="652.4" cy="284.4" r="2.6"/><circle cx="642.6" cy="285.1" r="2.6"/><circle cx="632.8" cy="285.5" r="2.6"/><circle cx="623" cy="285.8" r="2.6"/><circle cx="613.1" cy="286" r="2.6"/><circle cx="603.3" cy="286" r="2.6"/><circle cx="593.5" cy="286" r="2.6"/><circle cx="583.7" cy="285.9" r="2.6"/><circle cx="573.9" cy="285.8" r="2.6"/><circle cx="564" cy="285.7" r="2.6"/><circle cx="554.2" cy="285.5" r="2.6"/><circle cx="544.4" cy="285.2" r="2.6"/><circle cx="534.6" cy="284.6" r="2.6"/><circle cx="524.9" cy="283.7" r="2.6"/><circle cx="515.1" cy="282.3" r="2.6"/><circle cx="505.3" cy="280.5" r="2.6"/><circle cx="495.5" cy="278.5" r="2.6"/><circle cx="485.8" cy="276.3" r="2.6"/><circle cx="476" cy="274.3" r="2.6"/><circle cx="466.2" cy="272.6" r="2.6"/><circle cx="456.5" cy="271.5" r="2.6"/><circle cx="446.7" cy="271.2" r="2.6"/><circle cx="436.9" cy="271.5" r="2.6"/><circle cx="427.1" cy="272.4" r="2.6"/><circle cx="417.4" cy="273.8" r="2.6"/><circle cx="407.6" cy="275.6" r="2.6"/><circle cx="397.8" cy="277.8" r="2.6"/><circle cx="388" cy="280.3" r="2.6"/><circle cx="378.3" cy="282.9" r="2.6"/><circle cx="368.5" cy="285.7" r="2.6"/><circle cx="358.7" cy="288.4" r="2.6"/><circle cx="349" cy="291.1" r="2.6"/><circle cx="339.2" cy="293.6" r="2.6"/><circle cx="329.4" cy="295.9" r="2.6"/><circle cx="319.6" cy="297.9" r="2.6"/><circle cx="309.9" cy="299.7" r="2.6"/><circle cx="300.1" cy="301.2" r="2.6"/><circle cx="290.3" cy="302.4" r="2.6"/><circle cx="280.6" cy="303.4" r="2.6"/><circle cx="270.8" cy="304.1" r="2.6"/><circle cx="261" cy="304.5" r="2.6"/><circle cx="251.2" cy="304.5" r="2.6"/><circle cx="241.5" cy="304.3" r="2.6"/><circle cx="231.7" cy="303.7" r="2.6"/><circle cx="221.9" cy="302.8" r="2.6"/><circle cx="212.2" cy="301.6" r="2.6"/><circle cx="202.4" cy="300.1" r="2.6"/><circle cx="192.6" cy="298.7" r="2.6"/><circle cx="182.8" cy="297.3" r="2.6"/><circle cx="173.1" cy="296.2" r="2.6"/><circle cx="163.3" cy="295.5" r="2.6"/><circle cx="153.5" cy="295.3" r="2.6"/><circle cx="143.7" cy="295.6" r="2.6"/><circle cx="134" cy="296.3" r="2.6"/><circle cx="124.2" cy="297.1" r="2.6"/><circle cx="114.4" cy="298" r="2.6"/><circle cx="104.7" cy="298.8" r="2.6"/></g><path d="M103.5 442.6 L1036.5 440.5" fill="none" stroke="#000" stroke-width="6.3" stroke-dasharray="17.8 17.14" stroke-dashoffset="10.54"/><path d="M103.5 845.5 L105.5 845.5 L107.5 845.5 L109.5 845.4 L111.5 845.4 L113.5 845.4 L115.5 845.3 L117.5 845.3 L119.5 845.2 L121.5 845.1 L123.5 845.1 L125.5 845 L127.5 844.9 L129.5 844.7 L131.5 844.6 L133.5 844.4 L135.5 844.2 L137.5 844 L139.5 843.7 L141.5 843.5 L143.5 843.3 L145.5 843 L147.5 842.8 L149.5 842.6 L151.5 842.3 L153.5 842.1 L155.5 841.8 L157.5 841.6 L159.5 841.3 L161.5 841 L163.5 840.8 L165.5 840.6 L167.5 840.4 L169.5 840.2 L171.5 840.1 L173.5 840 L175.5 839.9 L177.5 839.8 L179.5 839.7 L181.5 839.7 L183.5 839.6 L185.5 839.5 L187.5 839.4 L189.5 839.4 L191.5 839.3 L193.5 839.3 L195.5 839.2 L197.5 839.2 L199.5 839.2 L201.5 839.2 L203.5 839.2 L205.5 839.2 L207.5 839.2 L209.5 839.2 L211.5 839.1 L213.5 839.1 L215.5 839.1 L217.5 839.1 L219.5 839.1 L221.5 839.1 L223.5 839.1 L225.5 839.1 L227.5 839.1 L229.5 839.1 L231.5 839.1 L233.5 839.1 L235.5 839.1 L237.5 839.1 L239.5 839.1 L241.5 839 L243.5 839 L245.5 839 L247.5 839 L249.5 839 L251.5 839 L253.5 839 L255.5 839 L257.5 839 L259.5 839 L261.5 839 L263.5 839 L265.5 839 L267.5 839 L269.5 839 L271.5 839 L273.5 839 L275.5 839 L277.5 839 L279.5 839 L281.5 839 L283.5 839 L285.5 839 L287.5 839 L289.5 839 L291.5 839 L293.5 839 L295.5 839 L297.5 838.9 L299.5 838.9 L301.5 838.9 L303.5 838.9 L305.5 838.9 L307.5 838.9 L309.5 838.9 L311.5 838.9 L313.5 838.9 L315.5 838.9 L317.5 838.9 L319.5 838.9 L321.5 838.9 L323.5 838.9 L325.5 838.9 L327.5 838.9 L329.5 838.9 L331.5 838.9 L333.5 838.9 L335.5 838.9 L337.5 838.9 L339.5 838.9 L341.5 838.9 L343.5 838.9 L345.5 838.9 L347.5 838.9 L349.5 838.9 L351.5 838.9 L353.5 838.9 L355.5 838.9 L357.5 838.9 L359.5 838.9 L361.5 838.9 L363.5 838.9 L365.5 838.9 L367.5 838.9 L369.5 838.9 L371.5 838.9 L373.5 838.9 L375.5 838.9 L377.5 838.9 L379.5 838.8 L381.5 838.8 L383.5 838.8 L385.5 838.8 L387.5 838.8 L389.5 838.8 L391.5 838.8 L393.5 838.8 L395.5 838.8 L397.5 838.8 L399.5 838.8 L401.5 838.8 L403.5 838.8 L405.5 838.8 L407.5 838.8 L409.5 838.8 L411.5 838.8 L413.5 838.8 L415.5 838.8 L417.5 838.8 L419.5 838.7 L421.5 838.7 L423.5 838.7 L425.5 838.7 L427.5 838.7 L429.5 838.7 L431.5 838.7 L433.5 838.7 L435.5 838.7 L437.5 838.7 L439.5 838.7 L441.5 838.7 L443.5 838.7 L445.5 838.7 L447.5 838.7 L449.5 838.7 L451.5 838.7 L453.5 838.6 L455.5 838.6 L457.5 838.6 L459.5 838.6 L461.5 838.6 L463.5 838.6 L465.5 838.6 L467.5 838.6 L469.5 838.6 L471.5 838.6 L473.5 838.6 L475.5 838.6 L477.5 838.6 L479.5 838.6 L481.5 838.6 L483.5 838.5 L485.5 838.5 L487.5 838.5 L489.5 838.5 L491.5 838.5 L493.5 838.5 L495.5 838.5 L497.5 838.5 L499.5 838.5 L501.5 838.5 L503.5 838.5 L505.5 838.5 L507.5 838.5 L509.5 838.4 L511.5 838.4 L513.5 838.4 L515.5 838.4 L517.5 838.4 L519.5 838.4 L521.5 838.4 L523.5 838.4 L525.5 838.4 L527.5 838.4 L529.5 838.4 L531.5 838.4 L533.5 838.3 L535.5 838.3 L537.5 838.3 L539.5 838.3 L541.5 838.3 L543.5 838.3 L545.5 838.3 L547.5 838.3 L549.5 838.3 L551.5 838.3 L553.5 838.3 L555.5 838.2 L557.5 838.2 L559.5 838.2 L561.5 838.2 L563.5 838.2 L565.5 838.2 L567.5 838.2 L569.5 838.2 L571.5 838.2 L573.5 838.1 L575.5 838.1 L577.5 838.1 L579.5 838.1 L581.5 838.1 L583.5 838.1 L585.5 838.1 L587.5 838.1 L589.5 838.1 L591.5 838.1 L593.5 838 L595.5 838 L597.5 838 L599.5 838 L601.5 838 L603.5 838 L605.5 838 L607.5 837.9 L609.5 837.9 L611.5 837.9 L613.5 837.9 L615.5 837.9 L617.5 837.8 L619.5 837.8 L621.5 837.8 L623.5 837.8 L625.5 837.8 L627.5 837.7 L629.5 837.7 L631.5 837.7 L633.5 837.6 L635.5 837.6 L637.5 837.6 L639.5 837.6 L641.5 837.5 L643.5 837.5 L645.5 837.5 L647.5 837.5 L649.5 837.4 L651.5 837.4 L653.5 837.4 L655.5 837.4 L657.5 837.3 L659.5 837.3 L661.5 837.3 L663.5 837.3 L665.5 837.2 L667.5 837.2 L669.5 837.2 L671.5 837.2 L673.5 837.1 L675.5 837.1 L677.5 837.1 L679.5 837.1 L681.5 837.1 L683.5 837.1 L685.5 837 L687.5 837 L689.5 837 L691.5 837 L693.5 837 L695.5 837 L697.5 837 L699.5 837 L701.5 837 L703.5 837 L705.5 837 L707.5 837 L709.5 837 L711.5 837 L713.5 837 L715.5 837 L717.5 837 L719.5 837 L721.5 837 L723.5 837 L725.5 837 L727.5 837 L729.5 837 L731.5 837 L733.5 837 L735.5 837 L737.5 837 L739.5 837 L741.5 837 L743.5 837 L745.5 837 L747.5 837 L749.5 837 L751.5 837 L753.5 837 L755.5 837 L757.5 837 L759.5 837 L761.5 837 L763.5 837 L765.5 837 L767.5 837 L769.5 837 L771.5 837 L773.5 837 L775.5 837 L777.5 837 L779.5 837 L781.5 837 L783.5 837 L785.5 837 L787.5 837 L789.5 837 L791.5 837 L793.5 837 L795.5 837 L797.5 837 L799.5 837 L801.5 837 L803.5 837 L805.5 837 L807.5 837 L809.5 837 L811.5 837 L813.5 837 L815.5 837 L817.5 837 L819.5 837 L821.5 837 L823.5 837 L825.5 837 L827.5 837 L829.5 837 L831.5 837 L833.5 837 L835.5 837 L837.5 837 L839.5 837 L841.5 837 L843.5 837 L845.5 837 L847.5 837 L849.5 837 L851.5 837 L853.5 837 L855.5 837 L857.5 837 L859.5 837 L861.5 837 L863.5 837 L865.5 837 L867.5 837 L869.5 837 L871.5 837 L873.5 837 L875.5 837 L877.5 837 L879.5 837 L881.5 837 L883.5 837 L885.5 837 L887.5 837 L889.5 837 L891.5 837 L893.5 837 L895.5 837 L897.5 837 L899.5 837 L901.5 837 L903.5 837 L905.5 837 L907.5 837 L909.5 837 L911.5 837 L913.5 837 L915.5 837 L917.5 837 L919.5 837 L921.5 837 L923.5 837 L925.5 837 L927.5 837 L929.5 837 L931.5 837 L933.5 837 L935.5 837 L937.5 837 L939.5 837 L941.5 837 L943.5 837 L945.5 837 L947.5 837 L949.5 837 L951.5 837 L953.5 837 L955.5 837 L957.5 837 L959.5 837 L961.5 837 L963.5 837 L965.5 837 L967.5 837 L969.5 837 L971.5 837 L973.5 837 L975.5 837 L977.5 837 L979.5 837 L981.5 837 L983.5 837 L985.5 837 L987.5 837 L989.5 837 L990 837" fill="none" stroke="#000" stroke-width="1.3"/><path d="M103.5 835.8 L105.5 835.8 L107.5 835.8 L109.5 835.8 L111.5 835.8 L113.5 835.8 L115.5 835.8 L117.5 835.8 L119.5 835.8 L121.5 835.8 L123.5 835.8 L125.5 835.8 L127.5 835.8 L129.5 835.8 L131.5 835.8 L133.5 835.8 L135.5 835.8 L137.5 835.8 L139.5 835.8 L141.5 835.7 L143.5 835.7 L145.5 835.7 L147.5 835.7 L149.5 835.7 L151.5 835.7 L153.5 835.7 L155.5 835.7 L157.5 835.7 L159.5 835.7 L161.5 835.7 L163.5 835.7 L165.5 835.7 L167.5 835.7 L169.5 835.7 L171.5 835.7 L173.5 835.7 L175.5 835.7 L177.5 835.7 L179.5 835.7 L181.5 835.7 L183.5 835.7 L185.5 835.7 L187.5 835.6 L189.5 835.6 L191.5 835.6 L193.5 835.6 L195.5 835.6 L197.5 835.6 L199.5 835.6 L201.5 835.6 L203.5 835.6 L205.5 835.6 L207.5 835.6 L209.5 835.6 L211.5 835.6 L213.5 835.6 L215.5 835.6 L217.5 835.6 L219.5 835.6 L221.5 835.6 L223.5 835.6 L225.5 835.5 L227.5 835.5 L229.5 835.5 L231.5 835.5 L233.5 835.5 L235.5 835.5 L237.5 835.5 L239.5 835.5 L241.5 835.5 L243.5 835.5 L245.5 835.5 L247.5 835.5 L249.5 835.5 L251.5 835.5 L253.5 835.5 L255.5 835.5 L257.5 835.4 L259.5 835.4 L261.5 835.4 L263.5 835.4 L265.5 835.4 L267.5 835.4 L269.5 835.4 L271.5 835.4 L273.5 835.4 L275.5 835.4 L277.5 835.4 L279.5 835.4 L281.5 835.4 L283.5 835.4 L285.5 835.4 L287.5 835.3 L289.5 835.3 L291.5 835.3 L293.5 835.3 L295.5 835.3 L297.5 835.3 L299.5 835.3 L301.5 835.3 L303.5 835.3 L305.5 835.3 L307.5 835.3 L309.5 835.3 L311.5 835.3 L313.5 835.2 L315.5 835.2 L317.5 835.2 L319.5 835.2 L321.5 835.2 L323.5 835.2 L325.5 835.2 L327.5 835.2 L329.5 835.2 L331.5 835.2 L333.5 835.1 L335.5 835.1 L337.5 835.1 L339.5 835.1 L341.5 835.1 L343.5 835.1 L345.5 835.1 L347.5 835.1 L349.5 835.1 L351.5 835 L353.5 835 L355.5 835 L357.5 835 L359.5 835 L361.5 835 L363.5 835 L365.5 834.9 L367.5 834.9 L369.5 834.9 L371.5 834.9 L373.5 834.9 L375.5 834.9 L377.5 834.9 L379.5 834.9 L381.5 834.8 L383.5 834.8 L385.5 834.8 L387.5 834.8 L389.5 834.8 L391.5 834.8 L393.5 834.8 L395.5 834.8 L397.5 834.7 L399.5 834.7 L401.5 834.7 L403.5 834.7 L405.5 834.7 L407.5 834.7 L409.5 834.7 L411.5 834.7 L413.5 834.7 L415.5 834.6 L417.5 834.6 L419.5 834.6 L421.5 834.6 L423.5 834.6 L425.5 834.6 L427.5 834.6 L429.5 834.6 L431.5 834.6 L433.5 834.6 L435.5 834.6 L437.5 834.5 L439.5 834.5 L441.5 834.5 L443.5 834.5 L445.5 834.5 L447.5 834.5 L449.5 834.5 L451.5 834.5 L453.5 834.5 L455.5 834.5 L457.5 834.5 L459.5 834.5 L461.5 834.5 L463.5 834.5 L465.5 834.5 L467.5 834.4 L469.5 834.4 L471.5 834.4 L473.5 834.4 L475.5 834.4 L477.5 834.4 L479.5 834.4 L481.5 834.4 L483.5 834.4 L485.5 834.4 L487.5 834.4 L489.5 834.4 L491.5 834.4 L493.5 834.4 L495.5 834.4 L497.5 834.4 L499.5 834.4 L501.5 834.4 L503.5 834.3 L505.5 834.3 L507.5 834.3 L509.5 834.3 L511.5 834.3 L513.5 834.3 L515.5 834.3 L517.5 834.3 L519.5 834.3 L521.5 834.3 L523.5 834.3 L525.5 834.3 L527.5 834.3 L529.5 834.3 L531.5 834.3 L533.5 834.3 L535.5 834.3 L537.5 834.3 L539.5 834.3 L541.5 834.3 L543.5 834.3 L545.5 834.3 L547.5 834.2 L549.5 834.2 L551.5 834.2 L553.5 834.2 L555.5 834.2 L557.5 834.2 L559.5 834.2 L561.5 834.2 L563.5 834.2 L565.5 834.2 L567.5 834.2 L569.5 834.2 L571.5 834.2 L573.5 834.2 L575.5 834.2 L577.5 834.2 L579.5 834.2 L581.5 834.2 L583.5 834.2 L585.5 834.2 L587.5 834.2 L589.5 834.2 L591.5 834.2 L593.5 834.2 L595.5 834.2 L597.5 834.2 L599.5 834.2 L601.5 834.2 L603.5 834.2 L605.5 834.2 L607.5 834.2 L609.5 834.2 L611.5 834.2 L613.5 834.2 L615.5 834.2 L617.5 834.2 L619.5 834.2 L621.5 834.2 L623.5 834.2 L625.5 834.2 L627.5 834.2 L629.5 834.2 L631.5 834.2 L633.5 834.3 L635.5 834.3 L637.5 834.3 L639.5 834.3 L641.5 834.3 L643.5 834.3 L645.5 834.3 L647.5 834.3 L649.5 834.3 L651.5 834.3 L653.5 834.3 L655.5 834.3 L657.5 834.3 L659.5 834.3 L661.5 834.3 L663.5 834.4 L665.5 834.4 L667.5 834.4 L669.5 834.4 L671.5 834.4 L673.5 834.4 L675.5 834.4 L677.5 834.4 L679.5 834.4 L681.5 834.4 L683.5 834.4 L685.5 834.4 L687.5 834.4 L689.5 834.5 L691.5 834.5 L693.5 834.5 L695.5 834.5 L697.5 834.5 L699.5 834.5 L701.5 834.5 L703.5 834.5 L705.5 834.5 L707.5 834.5 L709.5 834.5 L711.5 834.5 L713.5 834.5 L715.5 834.5 L717.5 834.6 L719.5 834.6 L721.5 834.6 L723.5 834.6 L725.5 834.6 L727.5 834.6 L729.5 834.6 L731.5 834.6 L733.5 834.6 L735.5 834.6 L737.5 834.6 L739.5 834.6 L741.5 834.6 L743.5 834.6 L745.5 834.6 L747.5 834.6 L749.5 834.6 L751.5 834.6 L753.5 834.6 L755.5 834.6 L757.5 834.6 L759.5 834.6 L761.5 834.6 L763.5 834.6 L765.5 834.6 L767.5 834.6 L769.5 834.6 L771.5 834.6 L773.5 834.6 L775.5 834.6 L777.5 834.6 L779.5 834.6 L781.5 834.6 L783.5 834.6 L785.5 834.6 L787.5 834.6 L789.5 834.6 L791.5 834.6 L793.5 834.6 L795.5 834.6 L797.5 834.6 L799.5 834.6 L801.5 834.6 L803.5 834.6 L805.5 834.6 L807.5 834.6 L809.5 834.6 L811.5 834.6 L813.5 834.6 L815.5 834.6 L817.5 834.6 L819.5 834.6 L821.5 834.6 L823.5 834.6 L825.5 834.6 L827.5 834.6 L829.5 834.6 L831.5 834.6 L833.5 834.5 L835.5 834.5 L837.5 834.5 L839.5 834.5 L841.5 834.5 L843.5 834.5 L845.5 834.5 L847.5 834.5 L849.5 834.5 L851.5 834.5 L853.5 834.5 L855.5 834.5 L857.5 834.5 L859.5 834.5 L861.5 834.5 L863.5 834.5 L865.5 834.5 L867.5 834.5 L869.5 834.5 L871.5 834.5 L873.5 834.5 L875.5 834.5 L877.5 834.5 L879.5 834.5 L881.5 834.5 L883.5 834.5 L885.5 834.5 L887.5 834.5 L889.5 834.5 L891.5 834.5 L893.5 834.5 L895.5 834.5 L897.5 834.4 L899.5 834.4 L901.5 834.4 L903.5 834.4 L905.5 834.4 L907.5 834.4 L909.5 834.4 L911.5 834.4 L913.5 834.4 L915.5 834.4 L917.5 834.4 L919.5 834.4 L921.5 834.4 L923.5 834.4 L925.5 834.4 L927.5 834.4 L929.5 834.4 L931.5 834.4 L933.5 834.4 L935.5 834.4 L937.5 834.4 L939.5 834.4 L941.5 834.4 L943.5 834.3 L945.5 834.3 L947.5 834.3 L949.5 834.3 L951.5 834.3 L953.5 834.3 L955.5 834.3 L957.5 834.3 L959.5 834.3 L961.5 834.3 L963.5 834.3 L965.5 834.3 L967.5 834.3 L969.5 834.3 L971.5 834.3 L973.5 834.3 L975.5 834.3 L977.5 834.3 L979.5 834.3 L981.5 834.3 L983.5 834.2 L985.5 834.2 L987.5 834.2 L989.5 834.2 L991.5 834.2 L993.5 834.2 L995.5 834.2 L997.5 834.2 L999.5 834.2 L1001.5 834.2 L1003.5 834.2 L1005.5 834.2 L1007.5 834.2 L1009.5 834.2 L1011.5 834.2 L1013.5 834.1 L1015.5 834.1 L1017.5 834.1 L1019.5 834.1 L1021.5 834.1 L1023.5 834.1 L1025.5 834.1 L1027.5 834.1 L1029.5 834 L1031.5 834 L1033 834" fill="none" stroke="#000" stroke-width="2.9"/><path d="M103.5 836 L105.5 836 L107.5 836 L109.5 836 L111.5 836 L113.5 836 L115.5 836 L117.5 836 L119.5 836 L121.5 836 L123.5 836 L125.5 836 L127.5 836 L129.5 836 L131.5 836 L133.5 836 L135.5 836 L137.5 836 L139.5 836 L141.5 836 L143.5 836 L145.5 836 L147.5 835.9 L149.5 835.9 L151.5 835.9 L153.5 835.9 L155.5 835.9 L157.5 835.9 L159.5 835.9 L161.5 835.9 L163.5 835.9 L165.5 835.9 L167.5 835.9 L169.5 835.9 L171.5 835.9 L173.5 835.9 L175.5 835.9 L177.5 835.9 L179.5 835.9 L181.5 835.9 L183.5 835.9 L185.5 835.9 L187.5 835.9 L189.5 835.9 L191.5 835.9 L193.5 835.8 L195.5 835.8 L197.5 835.8 L199.5 835.8 L201.5 835.8 L203.5 835.8 L205.5 835.8 L207.5 835.8 L209.5 835.8 L211.5 835.8 L213.5 835.8 L215.5 835.8 L217.5 835.8 L219.5 835.8 L221.5 835.8 L223.5 835.8 L225.5 835.8 L227.5 835.7 L229.5 835.7 L231.5 835.7 L233.5 835.7 L235.5 835.7 L237.5 835.7 L239.5 835.7 L241.5 835.7 L243.5 835.7 L245.5 835.7 L247.5 835.7 L249.5 835.7 L251.5 835.7 L253.5 835.7 L255.5 835.7 L257.5 835.7 L259.5 835.6 L261.5 835.6 L263.5 835.6 L265.5 835.6 L267.5 835.6 L269.5 835.6 L271.5 835.6 L273.5 835.6 L275.5 835.6 L277.5 835.6 L279.5 835.6 L281.5 835.6 L283.5 835.6 L285.5 835.6 L287.5 835.5 L289.5 835.5 L291.5 835.5 L293.5 835.5 L295.5 835.5 L297.5 835.5 L299.5 835.5 L301.5 835.5 L303.5 835.5 L305.5 835.5 L307.5 835.5 L309.5 835.5 L311.5 835.5 L313.5 835.4 L315.5 835.4 L317.5 835.4 L319.5 835.4 L321.5 835.4 L323.5 835.4 L325.5 835.4 L327.5 835.4 L329.5 835.4 L331.5 835.4 L333.5 835.4 L335.5 835.3 L337.5 835.3 L339.5 835.3 L341.5 835.3 L343.5 835.3 L345.5 835.3 L347.5 835.3 L349.5 835.3 L351.5 835.3 L353.5 835.3 L355.5 835.2 L357.5 835.2 L359.5 835.2 L361.5 835.2 L363.5 835.2 L365.5 835.2 L367.5 835.2 L369.5 835.2 L371.5 835.2 L373.5 835.1 L375.5 835.1 L377.5 835.1 L379.5 835.1 L381.5 835.1 L383.5 835.1 L385.5 835.1 L387.5 835.1 L389.5 835 L391.5 835 L393.5 835 L395.5 835 L397.5 835 L399.5 835 L401.5 835 L403.5 834.9 L405.5 834.9 L407.5 834.9 L409.5 834.9 L411.5 834.9 L413.5 834.9 L415.5 834.9 L417.5 834.9 L419.5 834.8 L421.5 834.8 L423.5 834.8 L425.5 834.8 L427.5 834.8 L429.5 834.8 L431.5 834.8 L433.5 834.7 L435.5 834.7 L437.5 834.7 L439.5 834.7 L441.5 834.7 L443.5 834.7 L445.5 834.6 L447.5 834.6 L449.5 834.6 L451.5 834.6 L453.5 834.6 L455.5 834.6 L457.5 834.6 L459.5 834.5 L461.5 834.5 L463.5 834.5 L465.5 834.5 L467.5 834.5 L469.5 834.5 L471.5 834.4 L473.5 834.4 L475.5 834.4 L477.5 834.4 L479.5 834.4 L481.5 834.4 L483.5 834.3 L485.5 834.3 L487.5 834.3 L489.5 834.3 L491.5 834.3 L493.5 834.3 L495.5 834.2 L497.5 834.2 L499.5 834.2 L501.5 834.2 L503.5 834.2 L505.5 834.2 L507.5 834.1 L509.5 834.1 L511.5 834.1 L513.5 834.1 L515.5 834.1 L517.5 834.1 L519.5 834 L521.5 834 L523.5 834 L525.5 834 L527.5 834 L529.5 834 L531.5 833.9 L533.5 833.9 L535.5 833.9 L537.5 833.9 L539.5 833.9 L541.5 833.8 L543.5 833.8 L545.5 833.8 L547.5 833.8 L549.5 833.8 L551.5 833.7 L553.5 833.7 L555.5 833.7 L557.5 833.7 L559.5 833.6 L561.5 833.6 L563.5 833.6 L565.5 833.5 L567.5 833.5 L569.5 833.5 L571.5 833.5 L573.5 833.4 L575.5 833.4 L577.5 833.3 L579.5 833.3 L581.5 833.3 L583.5 833.2 L585.5 833.2 L587.5 833.1 L589.5 833 L591.5 832.9 L593.5 832.8 L595.5 832.7 L597.5 832.6 L599.5 832.5 L601.5 832.4 L603.5 832.3 L605.5 832.2 L607.5 832.1 L609.5 832 L611.5 831.9 L613.5 831.8 L615.5 831.7 L617.5 831.7 L619.5 831.6 L621.5 831.6 L623.5 831.5 L625.5 831.5 L627.5 831.4 L629.5 831.4 L631.5 831.3 L633.5 831.3 L635.5 831.3 L637.5 831.2 L639.5 831.2 L641.5 831.2 L643.5 831.1 L645.5 831.1 L647.5 831.1 L649.5 831 L651.5 831 L653.5 830.9 L655.5 830.9 L657.5 830.8 L659.5 830.8 L661.5 830.7 L663.5 830.6 L665.5 830.6 L667.5 830.5 L669.5 830.4 L671.5 830.3 L673.5 830.2 L675.5 830.2 L677.5 830.1 L679.5 830 L681.5 829.9 L683.5 829.9 L685.5 829.8 L687.5 829.7 L689.5 829.7 L691.5 829.6 L693.5 829.6 L695.5 829.5 L697.5 829.5 L699.5 829.5 L701.5 829.5 L703.5 829.5 L705.5 829.5 L707.5 829.5 L709.5 829.5 L711.5 829.5 L713.5 829.5 L715.5 829.5 L717.5 829.5 L719.5 829.5 L721.5 829.5 L723.5 829.5 L725.5 829.5 L727.5 829.4 L729.5 829.4 L731.5 829.4 L733.5 829.4 L735.5 829.4 L737.5 829.4 L739.5 829.4 L741.5 829.4 L743.5 829.4 L745.5 829.4 L747.5 829.4 L749.5 829.4 L751.5 829.4 L753.5 829.4 L755.5 829.4 L757.5 829.4 L759.5 829.4 L761.5 829.4 L763.5 829.4 L765.5 829.4 L767.5 829.4 L769.5 829.3 L771.5 829.3 L773.5 829.3 L775.5 829.3 L777.5 829.3 L779.5 829.2 L781.5 829.2 L783.5 829.2 L785.5 829.2 L787.5 829.2 L789.5 829.1 L791.5 829.1 L793.5 829.1 L795.5 829.1 L797.5 829.1 L799.5 829.1 L801.5 829.1 L803.5 829.1 L805.5 829.1 L807.5 829.1 L809.5 829.2 L811.5 829.2 L813.5 829.2 L815.5 829.3 L817.5 829.3 L819.5 829.4 L821.5 829.4 L823.5 829.5 L825.5 829.5 L827.5 829.6 L829.5 829.6 L831.5 829.7 L833.5 829.7 L835.5 829.8 L837.5 829.8 L839.5 829.9 L841.5 830 L843.5 830.1 L845.5 830.1 L847.5 830.2 L849.5 830.3 L851.5 830.4 L853.5 830.5 L855.5 830.6 L857.5 830.7 L859.5 830.8 L861.5 830.9 L863.5 831 L865.5 831.1 L867.5 831.2 L869.5 831.2 L871.5 831.3 L873.5 831.4 L875.5 831.5 L877.5 831.5 L879.5 831.6 L881.5 831.6 L883.5 831.7 L885.5 831.8 L887.5 831.8 L889.5 831.9 L891.5 831.9 L893.5 832 L895.5 832.1 L897.5 832.1 L899.5 832.2 L901.5 832.2 L903.5 832.3 L905.5 832.3 L907.5 832.4 L909.5 832.4 L911.5 832.5 L913.5 832.5 L915.5 832.6 L917.5 832.6 L919.5 832.7 L921.5 832.7 L923.5 832.8 L925.5 832.8 L927.5 832.8 L929.5 832.9 L931.5 832.9 L933.5 833 L935.5 833 L937.5 833.1 L939.5 833.1 L941.5 833.1 L943.5 833.2 L945.5 833.2 L947.5 833.3 L949.5 833.3 L951.5 833.3 L953.5 833.4 L955.5 833.4 L957.5 833.4 L959.5 833.4 L961.5 833.5 L963.5 833.5 L965.5 833.5 L967.5 833.5 L969.5 833.6 L971.5 833.6 L973.5 833.6 L975.5 833.6 L977.5 833.7 L979.5 833.7 L981.5 833.7 L983.5 833.7 L985.5 833.8 L987.5 833.8 L989.5 833.8 L991.5 833.9 L993.5 833.9 L995.5 833.9 L997.5 834 L999.5 834 L1001.5 834 L1003.5 834.1 L1005.5 834.1 L1007.5 834.2 L1009.5 834.2 L1011.5 834.3 L1013.5 834.3 L1015.5 834.4 L1017.5 834.4 L1019.5 834.5 L1021.5 834.5 L1023.5 834.6 L1025.5 834.6 L1027.5 834.7 L1029.5 834.8 L1031.5 834.8 L1033.5 834.9 L1035.5 835 L1036.5 835" fill="none" stroke="#000" stroke-width="3.3" stroke-linecap="round" stroke-dasharray="14 20.5" stroke-dashoffset="33.44"/><path d="M103.5 823.8 L105.5 823.9 L107.5 824 L109.5 824.1 L111.5 824.2 L113.5 824.3 L115.5 824.4 L117.5 824.4 L119.5 824.5 L121.5 824.5 L123.5 824.6 L125.5 824.6 L127.5 824.6 L129.5 824.6 L131.5 824.6 L133.5 824.7 L135.5 824.8 L137.5 825 L139.5 825.3 L141.5 825.7 L143.5 826.2 L145.5 826.8 L147.5 827.4 L149.5 828.1 L151.5 828.7 L153.5 829.2 L155.5 829.7 L157.5 830.1 L159.5 830.6 L161.5 831 L163.5 831.5 L165.5 832 L167.5 832.5 L169.5 833.2 L171.5 833.9 L173.5 834.7 L175.5 835.5 L177.5 836.3 L179.5 837.1 L181.5 837.9 L183.5 838.7 L185.5 839.4 L187.5 840.2 L189.5 840.9 L191.5 841.7 L193.5 842.4 L195.5 843.2 L197.5 844 L199.5 844.8 L201.5 845.6 L203.5 846.6 L205.5 847.5 L207.5 848.6 L209.5 849.6 L211.5 850.7 L213.5 851.8 L215.5 852.9 L217.5 854.1 L219.5 855.2 L221.5 856.3 L223.5 857.5 L225.5 858.6 L227.5 859.8 L229.5 860.9 L231.5 862 L233.5 863.1 L235.5 864.2 L237.5 865.3 L239.5 866.4 L241.5 867.5 L243.5 868.6 L245.5 869.8 L247.5 871 L249.5 872.2 L251.5 873.5 L253.5 874.8 L255.5 876.1 L257.5 877.5 L259.5 878.8 L261.5 880.2 L263.5 881.5 L265.5 882.8 L267.5 884 L269.5 885.1 L271.5 886.1 L273.5 887.2 L275.5 888.1 L277.5 889.1 L279.5 890 L281.5 890.9 L283.5 891.8 L285.5 892.8 L287.5 893.7 L289.5 894.7 L291.5 895.6 L293.5 896.6 L295.5 897.5 L297.5 898.5 L299.5 899.4 L301.5 900.3 L303.5 901.2 L305.5 902 L307.5 902.8 L309.5 903.5 L311.5 904.2 L313.5 904.8 L315.5 905.5 L317.5 906 L319.5 906.6 L321.5 907.1 L323.5 907.6 L325.5 908.1 L327.5 908.6 L329.5 909 L331.5 909.5 L333.5 909.9 L335.5 910.3 L337.5 910.6 L339.5 911 L341.5 911.3 L343.5 911.6 L345.5 911.8 L347.5 912 L349.5 912.1 L351.5 912.3 L353.5 912.4 L355.5 912.4 L357.5 912.4 L359.5 912.4 L361.5 912.4 L363.5 912.3 L365.5 912.2 L367.5 912.1 L369.5 912 L371.5 911.8 L373.5 911.6 L375.5 911.3 L377.5 911.1 L379.5 910.8 L381.5 910.4 L383.5 910.1 L385.5 909.7 L387.5 909.2 L389.5 908.7 L391.5 908.2 L393.5 907.6 L395.5 907 L397.5 906.4 L399.5 905.8 L401.5 905.1 L403.5 904.4 L405.5 903.7 L407.5 903 L409.5 902.3 L411.5 901.6 L413.5 900.8 L415.5 900 L417.5 899.2 L419.5 898.3 L421.5 897.4 L423.5 896.3 L425.5 895.2 L427.5 894 L429.5 892.7 L431.5 891.4 L433.5 889.9 L435.5 888.5 L437.5 886.9 L439.5 885.4 L441.5 883.9 L443.5 882.3 L445.5 880.8 L447.5 879.2 L449.5 877.7 L451.5 876.1 L453.5 874.4 L455.5 872.7 L457.5 871 L459.5 869.1 L461.5 867.1 L463.5 865.1 L465.5 863 L467.5 860.8 L469.5 858.6 L471.5 856.4 L473.5 854.2 L475.5 852.1 L477.5 849.9 L479.5 847.8 L481.5 845.7 L483.5 843.7 L485.5 841.6 L487.5 839.6 L489.5 837.5 L491.5 835.5 L493.5 833.4 L495.5 831.3 L497.5 829.2 L499.5 827.1 L501.5 825 L503.5 822.8 L505.5 820.7 L507.5 818.5 L509.5 816.4 L511.5 814.2 L513.5 812 L515.5 809.9 L517.5 807.7 L519.5 805.5 L521.5 803.4 L523.5 801.2 L525.5 799.1 L527.5 796.9 L529.5 794.8 L531.5 792.6 L533.5 790.4 L535.5 788.3 L537.5 786.1 L539.5 783.9 L541.5 781.8 L543.5 779.6 L545.5 777.5 L547.5 775.4 L549.5 773.4 L551.5 771.4 L553.5 769.4 L555.5 767.5 L557.5 765.7 L559.5 763.9 L561.5 762.1 L563.5 760.4 L565.5 758.7 L567.5 757.1 L569.5 755.4 L571.5 753.8 L573.5 752.2 L575.5 750.6 L577.5 748.9 L579.5 747.3 L581.5 745.7 L583.5 744 L585.5 742.4 L587.5 740.7 L589.5 739.1 L591.5 737.5 L593.5 735.9 L595.5 734.2 L597.5 732.6 L599.5 731.1 L601.5 729.5 L603.5 727.9 L605.5 726.4 L607.5 724.9 L609.5 723.4 L611.5 721.9 L613.5 720.5 L615.5 719.1 L617.5 717.7 L619.5 716.4 L621.5 715 L623.5 713.8 L625.5 712.5 L627.5 711.3 L629.5 710.1 L631.5 708.9 L633.5 707.7 L635.5 706.6 L637.5 705.5 L639.5 704.4 L641.5 703.3 L643.5 702.3 L645.5 701.3 L647.5 700.3 L649.5 699.3 L651.5 698.4 L653.5 697.4 L655.5 696.5 L657.5 695.6 L659.5 694.7 L661.5 693.8 L663.5 693 L665.5 692.1 L667.5 691.3 L669.5 690.5 L671.5 689.7 L673.5 688.9 L675.5 688.1 L677.5 687.3 L679.5 686.6 L681.5 685.8 L683.5 685.1 L685.5 684.4 L687.5 683.7 L689.5 683 L691.5 682.3 L693.5 681.7 L695.5 681.1 L697.5 680.5 L699.5 679.9 L701.5 679.4 L703.5 678.9 L705.5 678.4 L707.5 677.9 L709.5 677.4 L711.5 677 L713.5 676.6 L715.5 676.2 L717.5 675.8 L719.5 675.5 L721.5 675.1 L723.5 674.8 L725.5 674.5 L727.5 674.2 L729.5 673.9 L731.5 673.6 L733.5 673.3 L735.5 673.1 L737.5 672.8 L739.5 672.5 L741.5 672.3 L743.5 672.1 L745.5 671.8 L747.5 671.6 L749.5 671.4 L751.5 671.2 L753.5 671 L755.5 670.8 L757.5 670.6 L759.5 670.4 L761.5 670.2 L763.5 670.1 L765.5 669.9 L767.5 669.7 L769.5 669.6 L771.5 669.4 L773.5 669.3 L775.5 669.1 L777.5 669 L779.5 668.9 L781.5 668.7 L783.5 668.6 L785.5 668.5 L787.5 668.4 L789.5 668.3 L791.5 668.2 L793.5 668.2 L795.5 668.1 L797.5 668 L799.5 668 L801.5 667.9 L803.5 667.9 L805.5 667.8 L807.5 667.8 L809.5 667.8 L811.5 667.8 L813.5 667.8 L815.5 667.8 L817.5 667.8 L819.5 667.8 L821.5 667.8 L823.5 667.9 L825.5 667.9 L827.5 667.9 L829.5 668 L831.5 668.1 L833.5 668.2 L835.5 668.3 L837.5 668.4 L839.5 668.5 L841.5 668.7 L843.5 668.8 L845.5 669 L847.5 669.2 L849.5 669.5 L851.5 669.7 L853.5 670 L855.5 670.3 L857.5 670.6 L859.5 670.9 L861.5 671.3 L863.5 671.6 L865.5 672 L867.5 672.4 L869.5 672.8 L871.5 673.2 L873.5 673.7 L875.5 674.1 L877.5 674.6 L879.5 675.1 L881.5 675.6 L883.5 676.1 L885.5 676.6 L887.5 677.2 L889.5 677.7 L891.5 678.3 L893.5 678.9 L895.5 679.6 L897.5 680.2 L899.5 680.9 L901.5 681.7 L903.5 682.4 L905.5 683.2 L907.5 684.1 L909.5 685 L911.5 685.9 L913.5 686.9 L915.5 687.9 L917.5 689 L919.5 690.1 L921.5 691.2 L923.5 692.4 L925.5 693.5 L927.5 694.8 L929.5 696 L931.5 697.3 L933.5 698.6 L935.5 699.9 L937.5 701.3 L939.5 702.7 L941.5 704.2 L943.5 705.6 L945.5 707.2 L947.5 708.8 L949.5 710.4 L951.5 712.1 L953.5 713.8 L955.5 715.6 L957.5 717.4 L959.5 719.2 L961.5 721 L963.5 722.9 L965.5 724.8 L967.5 726.7 L969.5 728.6 L971.5 730.5 L973.5 732.4 L975.5 734.3 L977.5 736.1 L979.5 737.9 L981.5 739.6 L983.5 741.4 L985.5 743.1 L987.5 744.8 L989.5 746.6 L991.5 748.3 L993.5 750 L995.5 751.8 L997.5 753.6 L999.5 755.4 L1001.5 757.3 L1003.5 759.3 L1005.5 761.4 L1007.5 763.5 L1009.5 765.8 L1011.5 768.3 L1013.5 771.1 L1015.5 774.2 L1017.5 777.8 L1019.5 781.9 L1021.5 786.4 L1023.5 791.2 L1025.5 795.8 L1027.5 800 L1029.5 804 L1031.5 808.5 L1033.5 814.6 L1035.5 823 L1036.5 828" fill="none" stroke="#000" stroke-width="3.3" stroke-linecap="round" stroke-dasharray="14 13.955 0.01 13.955" stroke-dashoffset="19.52"/><g fill="#000"><circle cx="1026.6" cy="867.8" r="2.6"/><circle cx="1016.8" cy="887.5" r="2.6"/><circle cx="1006.9" cy="902.8" r="2.6"/><circle cx="997" cy="913.6" r="2.6"/><circle cx="987.2" cy="923.9" r="2.6"/><circle cx="977.3" cy="933.3" r="2.6"/><circle cx="967.5" cy="941.9" r="2.6"/><circle cx="957.6" cy="948.4" r="2.6"/><circle cx="947.7" cy="953.8" r="2.6"/><circle cx="937.9" cy="959.7" r="2.6"/><circle cx="928" cy="966.2" r="2.6"/><circle cx="918.1" cy="971.1" r="2.6"/><circle cx="908.3" cy="975.9" r="2.6"/><circle cx="898.4" cy="980" r="2.6"/><circle cx="888.5" cy="983.3" r="2.6"/><circle cx="878.7" cy="986.4" r="2.6"/><circle cx="868.8" cy="988.7" r="2.6"/><circle cx="858.9" cy="990.4" r="2.6"/><circle cx="849.1" cy="991.5" r="2.6"/><circle cx="839.2" cy="992.3" r="2.6"/><circle cx="829.4" cy="992.9" r="2.6"/><circle cx="819.5" cy="993.7" r="2.6"/><circle cx="809.6" cy="994.6" r="2.6"/><circle cx="799.8" cy="995.1" r="2.6"/><circle cx="789.9" cy="995.7" r="2.6"/><circle cx="780.1" cy="995.9" r="2.6"/><circle cx="770.3" cy="995.9" r="2.6"/><circle cx="760.4" cy="995.6" r="2.6"/><circle cx="750.6" cy="995.3" r="2.6"/><circle cx="740.8" cy="994.7" r="2.6"/><circle cx="731" cy="993.5" r="2.6"/><circle cx="721.2" cy="992.4" r="2.6"/><circle cx="711.3" cy="990.7" r="2.6"/><circle cx="701.5" cy="988.4" r="2.6"/><circle cx="691.7" cy="985.5" r="2.6"/><circle cx="681.9" cy="982.2" r="2.6"/><circle cx="672.1" cy="978.5" r="2.6"/><circle cx="662.2" cy="974.2" r="2.6"/><circle cx="652.4" cy="969.6" r="2.6"/><circle cx="642.6" cy="964.8" r="2.6"/><circle cx="632.8" cy="959.2" r="2.6"/><circle cx="623" cy="952.5" r="2.6"/><circle cx="613.1" cy="945.8" r="2.6"/><circle cx="603.3" cy="937.9" r="2.6"/><circle cx="593.5" cy="930.1" r="2.6"/><circle cx="583.7" cy="921.8" r="2.6"/><circle cx="573.9" cy="913.2" r="2.6"/><circle cx="564" cy="904" r="2.6"/><circle cx="554.2" cy="894.6" r="2.6"/><circle cx="544.4" cy="884.7" r="2.6"/><circle cx="534.6" cy="875" r="2.6"/><circle cx="524.9" cy="864.6" r="2.6"/><circle cx="515.1" cy="853.8" r="2.6"/><circle cx="505.3" cy="843.3" r="2.6"/><circle cx="495.5" cy="832.8" r="2.6"/><circle cx="485.8" cy="822.3" r="2.6"/><circle cx="476" cy="812" r="2.6"/><circle cx="466.2" cy="802.2" r="2.6"/><circle cx="456.5" cy="792.8" r="2.6"/><circle cx="446.7" cy="784.4" r="2.6"/><circle cx="436.9" cy="776.7" r="2.6"/><circle cx="427.1" cy="770.1" r="2.6"/><circle cx="417.4" cy="763.8" r="2.6"/><circle cx="407.6" cy="758.7" r="2.6"/><circle cx="397.8" cy="754.9" r="2.6"/><circle cx="388" cy="751.8" r="2.6"/><circle cx="378.3" cy="749.1" r="2.6"/><circle cx="368.5" cy="747.5" r="2.6"/><circle cx="358.7" cy="746.7" r="2.6"/><circle cx="349" cy="747" r="2.6"/><circle cx="339.2" cy="748.2" r="2.6"/><circle cx="329.4" cy="750.1" r="2.6"/><circle cx="319.6" cy="753.5" r="2.6"/><circle cx="309.9" cy="757.5" r="2.6"/><circle cx="300.1" cy="762" r="2.6"/><circle cx="290.3" cy="766.1" r="2.6"/><circle cx="280.6" cy="771.6" r="2.6"/><circle cx="270.8" cy="777" r="2.6"/><circle cx="261" cy="782.8" r="2.6"/><circle cx="251.2" cy="788.4" r="2.6"/><circle cx="241.5" cy="793.7" r="2.6"/><circle cx="231.7" cy="799" r="2.6"/><circle cx="221.9" cy="804.6" r="2.6"/><circle cx="212.2" cy="809.7" r="2.6"/><circle cx="202.4" cy="813.9" r="2.6"/><circle cx="192.6" cy="817.8" r="2.6"/><circle cx="182.8" cy="821.4" r="2.6"/><circle cx="173.1" cy="825.4" r="2.6"/><circle cx="163.3" cy="828.2" r="2.6"/><circle cx="153.5" cy="829.8" r="2.6"/><circle cx="143.7" cy="831.2" r="2.6"/><circle cx="134" cy="831.3" r="2.6"/><circle cx="124.2" cy="831.3" r="2.6"/><circle cx="114.4" cy="830.9" r="2.6"/><circle cx="104.7" cy="828.2" r="2.6"/></g><path d="M103.5 842.2 L1022 839.6" fill="none" stroke="#000" stroke-width="5.3" stroke-dasharray="17.8 17.07" stroke-dashoffset="10.2"/><path d="M1033 833.6 L1039.8 836.6 L1033 839.6 L990 839.6" fill="none" stroke="#000" stroke-width="2.2" stroke-linejoin="round"/>
<text transform="translate(658.8 135.2) scale(0.92 1.1)" font-size="24" font-weight="bold" fill="#000" stroke="#000" stroke-width="0.6" >C</text><g transform="translate(917.7 143.3) scale(1.0)" fill="none" stroke="#000" stroke-linecap="round"><path d="M1.2 4.3 Q3.2 1.4 6.6 1.5 L14 1.5" stroke-width="2.6"/><path d="M7.7 2.2 L7.7 11.6 Q7.9 15.6 10.8 15.6 Q12.9 15.5 13.9 13" stroke-width="3.5"/></g><text transform="translate(933.8 167.5) scale(0.94 1.07)" font-size="20" font-weight="bold" fill="#000" stroke="#000" stroke-width="0.6" >b</text><text transform="translate(980 236) scale(0.94 1.07)" font-size="24" font-weight="bold" fill="#000" stroke="#000" stroke-width="0.6" >PG</text><text transform="translate(138.5 334.5) scale(1.02 1.07)" font-size="24" font-weight="bold" fill="#000" stroke="#000" stroke-width="0.6" >A</text><text transform="translate(157 341) scale(0.94 1.07)" font-size="18" font-weight="bold" fill="#000" stroke="#000" stroke-width="0.6" >l</text><text transform="translate(625 325.5) scale(1.02 1.07)" font-size="24" font-weight="bold" fill="#000" stroke="#000" stroke-width="0.6" >A</text><text transform="translate(643.5 331.5) scale(1.0 1.04)" font-size="17" font-weight="bold" fill="#000" stroke="#000" stroke-width="0.6" >adv</text><g transform="translate(324.2 406.2) scale(1.0)" fill="none" stroke="#000" stroke-linecap="round"><path d="M1.2 4.3 Q3.2 1.4 6.6 1.5 L14 1.5" stroke-width="2.6"/><path d="M7.7 2.2 L7.7 11.6 Q7.9 15.6 10.8 15.6 Q12.9 15.5 13.9 13" stroke-width="3.5"/></g><text transform="translate(340.5 430.3) scale(0.94 1.07)" font-size="17" font-weight="bold" fill="#000" stroke="#000" stroke-width="0.6" textLength="17.5" lengthAdjust="spacingAndGlyphs">w</text><text transform="translate(790.8 695) scale(0.92 1.1)" font-size="24" font-weight="bold" fill="#000" stroke="#000" stroke-width="0.6" >C</text><g transform="translate(777 799) scale(1.0)" fill="none" stroke="#000" stroke-linecap="round"><path d="M1.2 4.3 Q3.2 1.4 6.6 1.5 L14 1.5" stroke-width="2.6"/><path d="M7.7 2.2 L7.7 11.6 Q7.9 15.6 10.8 15.6 Q12.9 15.5 13.9 13" stroke-width="3.5"/></g><text transform="translate(793.5 822.8) scale(0.94 1.07)" font-size="20" font-weight="bold" fill="#000" stroke="#000" stroke-width="0.6" >b</text><text transform="translate(969.5 815) scale(1.02 1.07)" font-size="24" font-weight="bold" fill="#000" stroke="#000" stroke-width="0.6" >A</text><text transform="translate(988 821.5) scale(1.0 1.04)" font-size="17" font-weight="bold" fill="#000" stroke="#000" stroke-width="0.6" >adv</text><text transform="translate(150.5 868) scale(1.02 1.07)" font-size="24" font-weight="bold" fill="#000" stroke="#000" stroke-width="0.6" >A</text><text transform="translate(168.8 874) scale(0.94 1.07)" font-size="18" font-weight="bold" fill="#000" stroke="#000" stroke-width="0.6" >l</text><g transform="translate(618.1 848.6) scale(1.0)" fill="none" stroke="#000" stroke-linecap="round"><path d="M1.2 4.3 Q3.2 1.4 6.6 1.5 L14 1.5" stroke-width="2.6"/><path d="M7.7 2.2 L7.7 11.6 Q7.9 15.6 10.8 15.6 Q12.9 15.5 13.9 13" stroke-width="3.5"/></g><text transform="translate(634.2 872.7) scale(0.94 1.07)" font-size="17" font-weight="bold" fill="#000" stroke="#000" stroke-width="0.6" textLength="17.5" lengthAdjust="spacingAndGlyphs">w</text><text transform="translate(792.3 984) scale(0.94 1.07)" font-size="24" font-weight="bold" fill="#000" stroke="#000" stroke-width="0.6" >PG</text>
<path d="M917 162.9 L919.2 165.9 L921.5 162.9 L923.8 165.9 L926 162.9 L928.2 165.9 L930.5 162.9 L932.8 165.9" fill="none" stroke="#d4607a" stroke-width="1.1" stroke-linejoin="round"/><path d="M933 170.7 L935.2 173.7 L937.5 170.7 L939.8 173.7 L942 170.7 L944.2 173.7 L946.5 170.7 L948.8 173.7 L951 170.7" fill="none" stroke="#d4607a" stroke-width="1.1" stroke-linejoin="round"/><path d="M625 328.1 L627.2 331.1 L629.5 328.1 L631.8 331.1 L634 328.1 L636.2 331.1 L638.5 328.1 L640.8 331.1" fill="none" stroke="#d4607a" stroke-width="1.1" stroke-linejoin="round"/><path d="M643 334.5 L645.2 337.5 L647.5 334.5 L649.8 337.5 L652 334.5 L654.2 337.5 L656.5 334.5 L658.8 337.5 L661 334.5 L663.2 337.5 L665.5 334.5 L667.8 337.5 L670 334.5 L672.2 337.5" fill="none" stroke="#d4607a" stroke-width="1.1" stroke-linejoin="round"/><path d="M323 425.2 L325.2 428.2 L327.5 425.2 L329.8 428.2 L332 425.2 L334.2 428.2 L336.5 425.2 L338.8 428.2 L341 425.2" fill="none" stroke="#d4607a" stroke-width="1.1" stroke-linejoin="round"/><path d="M340 432.1 L342.2 435.1 L344.5 432.1 L346.8 435.1 L349 432.1 L351.2 435.1 L353.5 432.1 L355.8 435.1 L358 432.1" fill="none" stroke="#d4607a" stroke-width="1.1" stroke-linejoin="round"/><path d="M775 818 L777.2 821 L779.5 818 L781.8 821 L784 818 L786.2 821 L788.5 818 L790.8 821 L793 818" fill="none" stroke="#d4607a" stroke-width="1.1" stroke-linejoin="round"/><path d="M793 825 L795.2 828 L797.5 825 L799.8 828 L802 825 L804.2 828 L806.5 825 L808.8 828" fill="none" stroke="#d4607a" stroke-width="1.1" stroke-linejoin="round"/><path d="M969 819.5 L971.2 822.5 L973.5 819.5 L975.8 822.5 L978 819.5 L980.2 822.5 L982.5 819.5 L984.8 822.5 L987 819.5" fill="none" stroke="#d4607a" stroke-width="1.1" stroke-linejoin="round"/><path d="M988 826 L990.2 829 L992.5 826 L994.8 829 L997 826 L999.2 829 L1001.5 826 L1003.8 829 L1006 826 L1008.2 829 L1010.5 826 L1012.8 829 L1015 826" fill="none" stroke="#d4607a" stroke-width="1.1" stroke-linejoin="round"/><path d="M617 867.5 L619.2 870.5 L621.5 867.5 L623.8 870.5 L626 867.5 L628.2 870.5 L630.5 867.5 L632.8 870.5 L635 867.5" fill="none" stroke="#d4607a" stroke-width="1.1" stroke-linejoin="round"/><path d="M634 874.6 L636.2 877.6 L638.5 874.6 L640.8 877.6 L643 874.6 L645.2 877.6 L647.5 874.6 L649.8 877.6 L652 874.6" fill="none" stroke="#d4607a" stroke-width="1.1" stroke-linejoin="round"/>
</svg>
</body></html>
